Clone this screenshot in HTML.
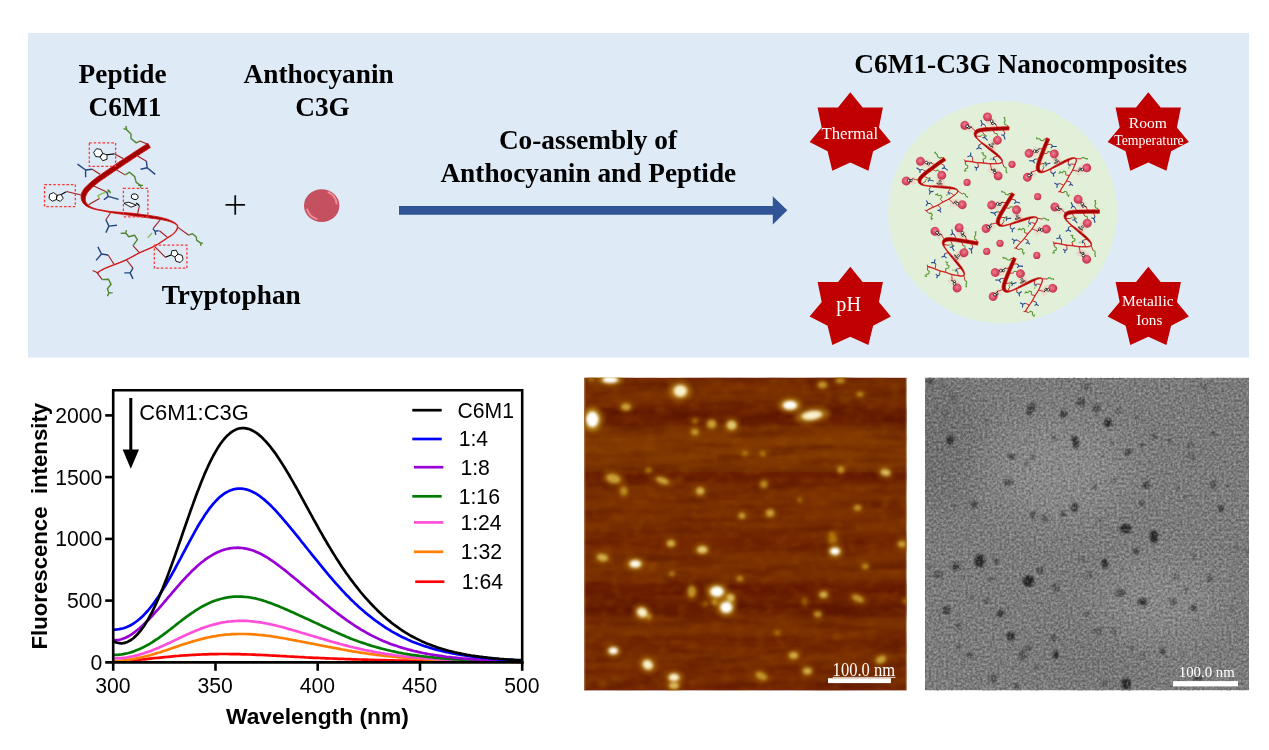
<!DOCTYPE html>
<html lang="en"><head><meta charset="utf-8"><title>C6M1-C3G Nanocomposites</title>
<style>html,body{margin:0;padding:0;background:#fff;overflow:hidden}svg{display:block}text{white-space:pre}</style></head><body>
<svg width="1269" height="750" viewBox="0 0 1269 750">
<defs>
<radialGradient id="sph" cx="0.45" cy="0.42" r="0.6"><stop offset="0" stop-color="#ec8292"/><stop offset="0.5" stop-color="#dd5068"/><stop offset="1" stop-color="#c02c48"/></radialGradient>
<linearGradient id="rib" x1="0" y1="0" x2="1" y2="1"><stop offset="0" stop-color="#d0181c"/><stop offset="0.5" stop-color="#c00000"/><stop offset="1" stop-color="#a80000"/></linearGradient>
<radialGradient id="c3g" cx="0.5" cy="0.5" r="0.5"><stop offset="0" stop-color="#c5505f"/><stop offset="0.82" stop-color="#c5505f"/><stop offset="0.93" stop-color="#d4606e"/><stop offset="1" stop-color="#c04a58"/></radialGradient>
<g id="pepmini"><path d="M147.9 144.3 L139.8 140.9" fill="none" stroke="#c0282a" stroke-width="2.2"/>
<path d="M114.6 153.9 L123.5 158.8" fill="none" stroke="#c0282a" stroke-width="2.2"/>
<path d="M100.0 174.2 L92.2 169.3" fill="none" stroke="#c0282a" stroke-width="2.2"/>
<path d="M137.6 156.1 L146.4 161.2" fill="none" stroke="#c0282a" stroke-width="2.2"/>
<path d="M116.2 169.6 L125.4 175.1" fill="none" stroke="#c0282a" stroke-width="2.2"/>
<path d="M66.5 191.5 L81.0 195.0" fill="none" stroke="#c0282a" stroke-width="2.2"/>
<path d="M139.4 205.9 L137.6 213.8" fill="none" stroke="#c0282a" stroke-width="2.2"/>
<path d="M93.7 186.1 L106.8 192.0" fill="none" stroke="#c0282a" stroke-width="2.2"/>
<path d="M88.5 204.7 L99.5 198.6" fill="none" stroke="#c0282a" stroke-width="2.2"/>
<path d="M92.7 270.4 L98.6 273.3" fill="none" stroke="#c0282a" stroke-width="2.2"/>
<path d="M111.1 212.0 L105.9 219.8" fill="none" stroke="#c0282a" stroke-width="2.2"/>
<path d="M139.6 252.8 L133.0 245.7" fill="none" stroke="#c0282a" stroke-width="2.2"/>
<path d="M160.9 219.0 L153.2 228.4" fill="none" stroke="#c0282a" stroke-width="2.2"/>
<path d="M159.4 230.8 L167.5 237.4" fill="none" stroke="#c0282a" stroke-width="2.2"/>
<path d="M177.6 227.1 L188.8 235.2" fill="none" stroke="#c0282a" stroke-width="2.2"/>
<path d="M154.3 246.2 L165.3 257.2" fill="none" stroke="#c0282a" stroke-width="2.2"/>
<path d="M114.0 264.2 L108.1 255.0" fill="none" stroke="#c0282a" stroke-width="2.2"/>
<path d="M126.5 260.0 L133.0 268.2" fill="none" stroke="#c0282a" stroke-width="2.2"/>
<path d="M97.1 272.9 L102.3 279.6" fill="none" stroke="#c0282a" stroke-width="2.2"/>
<path d="M139.8 141.2 L136.2 142.9 L131.0 138.5 L131.0 134.1 L126.6 129.7 L125.9 126.0 M126.6 129.7 L123.6 128.6 M125.6 174.6 L129.6 172.2 L134.7 176.6 L136.2 182.4 L140.6 185.4 L140.6 187.8 M138.2 185.4 L143.0 185.4 M133.0 245.7 L137.4 239.6 L134.5 235.2 L128.7 236.7 L125.7 233.0 M120.6 233.4 L125.7 233.0 L126.5 230.1 M188.8 235.2 L192.4 233.7 L196.1 236.7 L196.8 240.3 L201.2 243.3 M202.9 242.8 L201.2 243.3 L200.5 245.7 M102.3 279.6 L108.4 279.2 L111.1 284.3 L107.4 288.7 L108.9 293.1 M112.7 292.6 L108.9 293.1 L107.4 296.2 M107.5 191.9 L109.8 191.2 M107.5 189.6 L109.8 191.2 L110.5 193.4" fill="none" stroke="#5a9a34" stroke-width="2.8" stroke-linejoin="round"/>
<path d="M147.7 237.8 L152.1 233.0 M99.5 198.6 L98.0 195.6 L102.4 193.4 L107.5 191.9" fill="none" stroke="#84c058" stroke-width="2.6" stroke-linejoin="round"/>
<path d="M92.2 169.3 L85.6 170.0 M77.5 164.1 L85.6 170.0 L85.6 177.3 M146.4 161.2 L147.2 167.8 M140.6 169.3 L147.2 167.8 L155.2 174.4 M106.8 192.0 L108.3 196.4 M103.9 199.8 L108.3 196.4 L118.6 199.3 M105.9 219.8 L108.9 226.1 M116.9 225.2 L108.9 226.1 L105.9 232.6 M152.8 228.6 L155.0 231.1 M158.7 230.8 L155.0 231.1 L155.8 234.9 M108.1 255.0 L101.5 254.0 M97.9 246.9 L101.5 254.0 L96.1 260.4 M133.0 268.2 L130.1 272.9 M124.3 272.9 L130.1 272.9 L133.0 278.9" fill="none" stroke="#2a4a90" stroke-width="2.8" stroke-linejoin="round"/>
<path d="M146.8 141.8 L145.1 142.9 L143.4 144.0 L141.7 145.1 L140.0 146.2 L138.3 147.3 L136.6 148.4 L134.8 149.5 L133.1 150.6 L131.4 151.7 L129.7 152.9 L128.0 154.0 L126.3 155.1 L124.5 156.2 L122.8 157.4 L121.1 158.5 L119.4 159.7 L117.7 160.8 L116.0 161.9 L114.3 163.1 L112.6 164.2 L110.9 165.4 L109.2 166.5 L107.6 167.7 L105.9 168.8 L104.2 170.0 L102.5 171.1 L100.9 172.3 L99.2 173.4 L97.6 174.6 L95.9 175.9 L94.2 177.1 L92.6 178.4 L90.9 179.7 L89.2 181.1 L87.6 182.6 L85.9 184.1 L84.3 185.8 L82.7 187.7 L81.2 189.8 L80.0 192.2 L79.4 195.0 L79.4 197.8 L80.2 200.6 L81.5 203.1 L83.3 205.1 L85.3 206.6 L87.4 207.7 L89.5 208.5 L91.6 209.2 L93.6 209.7 L95.7 210.2 L97.7 210.6 L99.7 211.0 L101.8 211.4 L103.8 211.8 L105.8 212.2 L107.8 212.6 L109.8 213.1 L111.8 213.5 L113.8 213.9 L115.8 214.2 L117.8 214.6 L119.9 214.9 L121.9 215.2 L123.9 215.6 L125.9 215.9 L127.9 216.2 L129.9 216.5 L131.9 216.8 L133.9 217.1 L135.9 217.4 L137.9 217.7 L139.9 218.0 L141.9 218.3 L143.9 218.5 L145.9 218.8 L147.9 219.1 L150.0 219.3 L152.0 219.6 L154.1 219.8 L156.1 220.1 L158.1 220.4 L160.1 220.6 L162.0 220.9 L163.9 221.2 L165.8 221.5 L167.6 221.9 L169.5 222.4 L171.5 223.0 L173.6 223.8 L175.4 224.7 L176.6 225.8 L177.0 227.1 L176.5 228.9 L175.5 230.7 L174.1 232.4 L172.6 233.7 L171.1 234.9 L169.4 236.0 L167.7 237.1 L166.0 238.2 L164.3 239.3 L162.6 240.4 L160.9 241.5 L159.2 242.7 L157.5 243.7 L155.8 244.8 L154.0 245.7 L152.2 246.7 L150.4 247.5 L148.5 248.3 L146.6 249.1 L144.8 249.9 L142.9 250.7 L141.0 251.5 L139.1 252.4 L137.3 253.3 L135.5 254.3 L133.7 255.3 L131.9 256.2 L130.1 257.2 L128.4 258.2 L126.6 259.1 L124.7 259.9 L122.9 260.8 L121.0 261.5 L119.1 262.3 L117.2 263.0 L115.3 263.7 L113.4 264.4 L111.5 265.2 L109.6 265.9 L107.7 266.7 L105.8 267.5 L104.0 268.3 L102.1 269.2 L100.3 270.2 L98.5 271.3 L96.8 272.4 L97.4 273.4 L99.1 272.2 L100.8 271.2 L102.6 270.2 L104.4 269.3 L106.3 268.5 L108.1 267.7 L110.0 266.9 L111.9 266.2 L113.8 265.5 L115.7 264.8 L117.6 264.0 L119.5 263.3 L121.4 262.6 L123.3 261.8 L125.2 260.9 L127.0 260.1 L128.9 259.1 L130.7 258.2 L132.5 257.2 L134.2 256.2 L136.0 255.2 L137.8 254.3 L139.6 253.4 L141.5 252.5 L143.3 251.7 L145.2 250.9 L147.1 250.1 L148.9 249.3 L150.8 248.5 L152.7 247.6 L154.5 246.7 L156.3 245.7 L158.1 244.7 L159.8 243.6 L161.5 242.5 L163.3 241.3 L164.9 240.2 L166.6 239.1 L168.3 238.0 L170.0 236.9 L171.7 235.8 L173.3 234.6 L174.9 233.1 L176.4 231.4 L177.6 229.4 L178.3 227.3 L178.0 225.1 L176.6 223.2 L174.7 221.8 L172.6 220.6 L170.6 219.6 L168.7 218.7 L166.7 218.0 L164.8 217.4 L162.9 216.8 L160.9 216.3 L158.9 215.8 L156.8 215.4 L154.8 215.1 L152.7 214.7 L150.7 214.4 L148.7 214.1 L146.6 213.8 L144.6 213.5 L142.6 213.2 L140.6 212.9 L138.6 212.7 L136.5 212.4 L134.5 212.2 L132.5 212.0 L130.4 211.9 L128.4 211.7 L126.4 211.6 L124.3 211.5 L122.3 211.4 L120.2 211.3 L118.2 211.2 L116.2 211.1 L114.1 211.0 L112.1 210.9 L110.1 210.7 L108.1 210.5 L106.1 210.2 L104.1 209.9 L102.1 209.6 L100.1 209.2 L98.1 208.8 L96.1 208.3 L94.3 207.7 L92.5 206.9 L90.8 205.9 L89.2 204.8 L88.0 203.4 L87.1 202.0 L86.7 200.6 L86.7 199.1 L87.0 197.8 L87.4 196.6 L88.0 195.5 L88.6 194.2 L89.5 192.9 L90.6 191.6 L92.0 190.2 L93.4 188.8 L94.8 187.5 L96.3 186.3 L97.8 185.1 L99.3 183.9 L100.9 182.7 L102.5 181.6 L104.1 180.5 L105.8 179.3 L107.4 178.2 L109.1 177.1 L110.8 175.9 L112.4 174.8 L114.1 173.6 L115.8 172.5 L117.5 171.3 L119.1 170.2 L120.8 169.1 L122.5 167.9 L124.2 166.8 L125.9 165.7 L127.6 164.5 L129.3 163.4 L131.0 162.3 L132.7 161.1 L134.4 160.0 L136.1 158.9 L137.8 157.8 L139.5 156.7 L141.2 155.6 L142.9 154.4 L144.6 153.4 L146.3 152.3 L148.0 151.2 L149.7 150.1 L151.4 149.0Z" fill="#a20000" stroke="#d61616" stroke-width="1.8" stroke-linejoin="round"/>
<rect x="91.3" y="144.9" width="22.3" height="19.4" fill="#ff9090" fill-opacity="0.22"/>
<rect x="46.5" y="186.6" width="26.8" height="18.0" fill="#ff9090" fill-opacity="0.22"/>
<rect x="125.4" y="190.3" width="20.5" height="24.6" fill="#ff9090" fill-opacity="0.22"/>
<rect x="156.3" y="247.2" width="28.6" height="19.0" fill="#ff9090" fill-opacity="0.22"/>
<circle cx="88.0" cy="148.5" r="11.2" fill="url(#sph)"/>
<circle cx="50.0" cy="196.0" r="11.2" fill="url(#sph)"/>
<circle cx="139.5" cy="186.0" r="11.2" fill="url(#sph)"/>
<circle cx="187.0" cy="262.0" r="11.2" fill="url(#sph)"/>
<g transform="translate(107.5 155.9) scale(0.85) translate(-103.9 -157.0)">
<path d="M100.0 157.0 L95.6 156.5 L93.7 152.4 L96.4 148.8 L100.8 149.3 L102.7 153.4Z M102.7 153.4 L107.0 154.8 L107.0 159.3 L102.7 160.7 L100.0 157.0Z" fill="#fff" stroke="#000" stroke-width="1.9" stroke-linejoin="round"/>
<path d="M107.0 154.8 L114.4 153.9" fill="none" stroke="#000" stroke-width="2.3"/>
</g>
<g transform="translate(62.0 195.7) scale(0.85) translate(-59.6 -197.8)">
<path d="M56.4 199.5 L52.4 201.2 L49.0 198.5 L49.6 194.3 L53.6 192.6 L57.0 195.3Z M57.0 195.3 L61.2 194.5 L63.2 198.3 L60.3 201.4 L56.4 199.5Z" fill="#fff" stroke="#000" stroke-width="1.9" stroke-linejoin="round"/>
<path d="M61.2 194.5 L66.3 191.8" fill="none" stroke="#000" stroke-width="2.3"/>
</g>
<g transform="translate(171.2 254.7) scale(0.85) translate(-174.4 -253.4)">
<path d="M178.0 254.1 L182.1 255.4 L183.1 259.6 L180.0 262.5 L175.9 261.2 L174.9 257.0Z M174.9 257.0 L171.1 255.0 L171.9 250.7 L176.2 250.2 L178.0 254.1Z" fill="#fff" stroke="#000" stroke-width="1.9" stroke-linejoin="round"/>
<path d="M171.1 255.0 L165.3 257.2" fill="none" stroke="#000" stroke-width="2.3"/>
</g>
<g transform="translate(134 203) scale(0.8) translate(-134 -200)">
<ellipse cx="134.7" cy="196.7" rx="3.5" ry="2.8" fill="#fff" stroke="#000" stroke-width="1.9" transform="rotate(15 134.7 196.7)"/>
<path d="M123.9 203.2 L128.8 202.2 L136.4 205.2 L131.0 207.2Z" fill="#fff" stroke="#000" stroke-width="1.9" stroke-linejoin="round"/>
<path d="M136.2 203.0 L139.4 205.4" fill="none" stroke="#000" stroke-width="2.5"/>
</g></g>
</defs>
<rect x="28" y="33" width="1221" height="324.6" fill="#deeaf6"/>
<g font-family="'Liberation Serif', 'Times New Roman', serif">
<text x="122.6" y="83.0" font-size="27.3" font-weight="bold" text-anchor="middle" fill="#000" >Peptide</text>
<text x="125.0" y="115.6" font-size="27.3" font-weight="bold" text-anchor="middle" fill="#000" >C6M1</text>
<text x="318.6" y="82.9" font-size="27.3" font-weight="bold" text-anchor="middle" fill="#000" >Anthocyanin</text>
<text x="322.5" y="115.5" font-size="27.3" font-weight="bold" text-anchor="middle" fill="#000" >C3G</text>
<text x="231.2" y="303.7" font-size="27.3" font-weight="bold" text-anchor="middle" fill="#000" >Tryptophan</text>
<text x="588.0" y="148.8" font-size="27.3" font-weight="bold" text-anchor="middle" fill="#000" >Co-assembly of</text>
<text x="588.3" y="181.7" font-size="27.3" font-weight="bold" text-anchor="middle" fill="#000" >Anthocyanin and Peptide</text>
<text x="1020.7" y="72.6" font-size="27.3" font-weight="bold" text-anchor="middle" fill="#000" >C6M1-C3G Nanocomposites</text>
<text x="235.1" y="218.9" font-size="43.0"  text-anchor="middle" fill="#000" stroke="#deeaf6" stroke-width="0.45">+</text>
</g>
<g id="pep"><path d="M147.9 144.3 L139.8 140.9" fill="none" stroke="#9e1c1c" stroke-width="1.1"/>
<path d="M114.6 153.9 L123.5 158.8" fill="none" stroke="#9e1c1c" stroke-width="1.1"/>
<path d="M100.0 174.2 L92.2 169.3" fill="none" stroke="#9e1c1c" stroke-width="1.1"/>
<path d="M137.6 156.1 L146.4 161.2" fill="none" stroke="#9e1c1c" stroke-width="1.1"/>
<path d="M116.2 169.6 L125.4 175.1" fill="none" stroke="#9e1c1c" stroke-width="1.1"/>
<path d="M66.5 191.5 L81.0 195.0" fill="none" stroke="#9e1c1c" stroke-width="1.1"/>
<path d="M139.4 205.9 L137.6 213.8" fill="none" stroke="#9e1c1c" stroke-width="1.1"/>
<path d="M93.7 186.1 L106.8 192.0" fill="none" stroke="#9e1c1c" stroke-width="1.1"/>
<path d="M88.5 204.7 L99.5 198.6" fill="none" stroke="#9e1c1c" stroke-width="1.1"/>
<path d="M92.7 270.4 L98.6 273.3" fill="none" stroke="#9e1c1c" stroke-width="1.1"/>
<path d="M111.1 212.0 L105.9 219.8" fill="none" stroke="#9e1c1c" stroke-width="1.1"/>
<path d="M139.6 252.8 L133.0 245.7" fill="none" stroke="#9e1c1c" stroke-width="1.1"/>
<path d="M160.9 219.0 L153.2 228.4" fill="none" stroke="#9e1c1c" stroke-width="1.1"/>
<path d="M159.4 230.8 L167.5 237.4" fill="none" stroke="#9e1c1c" stroke-width="1.1"/>
<path d="M177.6 227.1 L188.8 235.2" fill="none" stroke="#9e1c1c" stroke-width="1.1"/>
<path d="M154.3 246.2 L165.3 257.2" fill="none" stroke="#9e1c1c" stroke-width="1.1"/>
<path d="M114.0 264.2 L108.1 255.0" fill="none" stroke="#9e1c1c" stroke-width="1.1"/>
<path d="M126.5 260.0 L133.0 268.2" fill="none" stroke="#9e1c1c" stroke-width="1.1"/>
<path d="M97.1 272.9 L102.3 279.6" fill="none" stroke="#9e1c1c" stroke-width="1.1"/>
<path d="M139.8 141.2 L136.2 142.9 L131.0 138.5 L131.0 134.1 L126.6 129.7 L125.9 126.0 M126.6 129.7 L123.6 128.6 M125.6 174.6 L129.6 172.2 L134.7 176.6 L136.2 182.4 L140.6 185.4 L140.6 187.8 M138.2 185.4 L143.0 185.4 M133.0 245.7 L137.4 239.6 L134.5 235.2 L128.7 236.7 L125.7 233.0 M120.6 233.4 L125.7 233.0 L126.5 230.1 M188.8 235.2 L192.4 233.7 L196.1 236.7 L196.8 240.3 L201.2 243.3 M202.9 242.8 L201.2 243.3 L200.5 245.7 M102.3 279.6 L108.4 279.2 L111.1 284.3 L107.4 288.7 L108.9 293.1 M112.7 292.6 L108.9 293.1 L107.4 296.2 M107.5 191.9 L109.8 191.2 M107.5 189.6 L109.8 191.2 L110.5 193.4" fill="none" stroke="#4f8630" stroke-width="1.4" stroke-linejoin="round"/>
<path d="M147.7 237.8 L152.1 233.0 M99.5 198.6 L98.0 195.6 L102.4 193.4 L107.5 191.9" fill="none" stroke="#84c058" stroke-width="1.3" stroke-linejoin="round"/>
<path d="M92.2 169.3 L85.6 170.0 M77.5 164.1 L85.6 170.0 L85.6 177.3 M146.4 161.2 L147.2 167.8 M140.6 169.3 L147.2 167.8 L155.2 174.4 M106.8 192.0 L108.3 196.4 M103.9 199.8 L108.3 196.4 L118.6 199.3 M105.9 219.8 L108.9 226.1 M116.9 225.2 L108.9 226.1 L105.9 232.6 M152.8 228.6 L155.0 231.1 M158.7 230.8 L155.0 231.1 L155.8 234.9 M108.1 255.0 L101.5 254.0 M97.9 246.9 L101.5 254.0 L96.1 260.4 M133.0 268.2 L130.1 272.9 M124.3 272.9 L130.1 272.9 L133.0 278.9" fill="none" stroke="#24447f" stroke-width="1.4" stroke-linejoin="round"/>
<path d="M147.8 143.3 L146.1 144.4 L144.4 145.5 L142.7 146.6 L140.9 147.7 L139.2 148.8 L137.5 149.9 L135.8 151.0 L134.1 152.1 L132.4 153.2 L130.7 154.4 L129.0 155.5 L127.3 156.6 L125.5 157.7 L123.8 158.9 L122.1 160.0 L120.4 161.1 L118.7 162.3 L117.0 163.4 L115.3 164.6 L113.6 165.7 L111.9 166.9 L110.3 168.0 L108.6 169.2 L106.9 170.3 L105.2 171.5 L103.6 172.6 L101.9 173.8 L100.2 174.9 L98.6 176.1 L96.9 177.3 L95.3 178.5 L93.6 179.8 L92.0 181.1 L90.4 182.5 L88.8 183.9 L87.2 185.4 L85.6 187.0 L84.1 188.8 L82.8 190.7 L81.7 192.9 L81.1 195.3 L81.1 197.8 L81.6 200.3 L82.7 202.5 L84.2 204.3 L86.0 205.8 L87.9 206.9 L89.9 207.7 L91.8 208.5 L93.8 209.1 L95.8 209.6 L97.8 210.0 L99.8 210.4 L101.9 210.8 L103.9 211.2 L105.9 211.6 L107.9 212.0 L109.9 212.4 L111.9 212.7 L113.9 213.1 L115.9 213.4 L117.9 213.7 L120.0 213.9 L122.0 214.2 L124.0 214.5 L126.0 214.8 L128.0 215.0 L130.0 215.3 L132.0 215.6 L134.1 215.9 L136.1 216.2 L138.1 216.5 L140.1 216.7 L142.1 217.0 L144.1 217.3 L146.1 217.6 L148.1 217.8 L150.2 218.1 L152.2 218.4 L154.2 218.6 L156.3 218.9 L158.3 219.2 L160.3 219.5 L162.2 219.8 L164.1 220.2 L166.0 220.6 L167.9 221.1 L169.8 221.6 L171.8 222.3 L173.9 223.2 L175.8 224.3 L177.0 225.6 L177.4 227.2 L176.8 229.0 L175.7 230.9 L174.3 232.6 L172.8 234.0 L171.2 235.2 L169.6 236.2 L167.9 237.3 L166.2 238.4 L164.5 239.5 L162.8 240.7 L161.1 241.8 L159.4 242.9 L157.7 244.0 L155.9 245.0 L154.1 246.0 L152.3 246.9 L150.5 247.8 L148.6 248.6 L146.7 249.4 L144.9 250.2 L143.0 251.0 L141.1 251.8 L139.3 252.7 L137.5 253.6 L135.6 254.5 L133.9 255.5 L132.1 256.5 L130.3 257.5 L128.5 258.4 L126.7 259.3 L124.9 260.2 L123.0 261.0 L121.1 261.8 L119.2 262.6 L117.3 263.3 L115.4 264.0 L113.5 264.7 L111.6 265.4 L109.7 266.2 L107.8 266.9 L105.9 267.7 L104.1 268.6 L102.2 269.5 L100.4 270.5 L98.7 271.5 L97.0 272.7 L97.2 273.1 L98.9 272.0 L100.7 270.9 L102.5 269.9 L104.3 269.0 L106.1 268.2 L108.0 267.4 L109.9 266.6 L111.8 265.9 L113.7 265.2 L115.6 264.5 L117.5 263.8 L119.4 263.0 L121.3 262.3 L123.2 261.5 L125.1 260.7 L126.9 259.8 L128.7 258.9 L130.5 257.9 L132.3 256.9 L134.1 256.0 L135.9 255.0 L137.7 254.0 L139.5 253.1 L141.3 252.3 L143.2 251.4 L145.1 250.6 L146.9 249.9 L148.8 249.1 L150.7 248.2 L152.5 247.4 L154.4 246.5 L156.2 245.5 L157.9 244.4 L159.7 243.3 L161.4 242.2 L163.1 241.1 L164.8 240.0 L166.5 238.8 L168.1 237.7 L169.8 236.7 L171.5 235.6 L173.1 234.3 L174.7 232.9 L176.1 231.2 L177.3 229.3 L177.9 227.2 L177.6 225.3 L176.3 223.7 L174.4 222.4 L172.3 221.3 L170.3 220.4 L168.4 219.6 L166.5 218.9 L164.6 218.4 L162.6 217.9 L160.7 217.4 L158.7 217.0 L156.6 216.6 L154.6 216.3 L152.5 215.9 L150.5 215.6 L148.5 215.3 L146.5 215.0 L144.4 214.7 L142.4 214.5 L140.4 214.2 L138.4 213.9 L136.4 213.7 L134.4 213.5 L132.3 213.2 L130.3 213.0 L128.3 212.9 L126.2 212.7 L124.2 212.5 L122.2 212.4 L120.1 212.3 L118.1 212.1 L116.1 212.0 L114.0 211.8 L112.0 211.6 L110.0 211.4 L108.0 211.1 L106.0 210.8 L104.0 210.5 L102.0 210.1 L100.0 209.8 L98.0 209.4 L96.0 208.9 L94.1 208.3 L92.2 207.6 L90.4 206.7 L88.7 205.6 L87.3 204.2 L86.2 202.7 L85.5 201.1 L85.3 199.5 L85.4 197.8 L85.7 196.2 L86.3 194.8 L87.1 193.3 L88.1 191.8 L89.3 190.4 L90.7 188.9 L92.1 187.5 L93.6 186.2 L95.1 184.9 L96.7 183.7 L98.2 182.5 L99.8 181.3 L101.5 180.1 L103.1 179.0 L104.8 177.9 L106.4 176.7 L108.1 175.6 L109.7 174.4 L111.4 173.3 L113.1 172.1 L114.8 171.0 L116.4 169.9 L118.1 168.7 L119.8 167.6 L121.5 166.4 L123.2 165.3 L124.9 164.2 L126.6 163.0 L128.3 161.9 L130.0 160.8 L131.7 159.6 L133.4 158.5 L135.1 157.4 L136.8 156.3 L138.5 155.2 L140.2 154.1 L141.9 152.9 L143.6 151.8 L145.3 150.8 L147.0 149.7 L148.7 148.6 L150.4 147.5Z" fill="#a20000" stroke="#d61616" stroke-width="0.9" stroke-linejoin="round"/>
<path d="M100.0 157.0 L95.6 156.5 L93.7 152.4 L96.4 148.8 L100.8 149.3 L102.7 153.4Z M102.7 153.4 L107.0 154.8 L107.0 159.3 L102.7 160.7 L100.0 157.0Z" fill="#fff" stroke="#000" stroke-width="0.9" stroke-linejoin="round"/>
<path d="M107.0 154.8 L114.4 153.9" fill="none" stroke="#000" stroke-width="1.1"/>
<path d="M56.4 199.5 L52.4 201.2 L49.0 198.5 L49.6 194.3 L53.6 192.6 L57.0 195.3Z M57.0 195.3 L61.2 194.5 L63.2 198.3 L60.3 201.4 L56.4 199.5Z" fill="#fff" stroke="#000" stroke-width="0.9" stroke-linejoin="round"/>
<path d="M61.2 194.5 L66.3 191.8" fill="none" stroke="#000" stroke-width="1.1"/>
<path d="M178.0 254.1 L182.1 255.4 L183.1 259.6 L180.0 262.5 L175.9 261.2 L174.9 257.0Z M174.9 257.0 L171.1 255.0 L171.9 250.7 L176.2 250.2 L178.0 254.1Z" fill="#fff" stroke="#000" stroke-width="0.9" stroke-linejoin="round"/>
<path d="M171.1 255.0 L165.3 257.2" fill="none" stroke="#000" stroke-width="1.1"/>
<ellipse cx="134.7" cy="196.7" rx="3.5" ry="2.8" fill="#fff" stroke="#000" stroke-width="0.9" transform="rotate(15 134.7 196.7)"/>
<path d="M123.9 203.2 L128.8 202.2 L136.4 205.2 L131.0 207.2Z" fill="#fff" stroke="#000" stroke-width="0.9" stroke-linejoin="round"/>
<path d="M136.2 203.0 L139.4 205.4" fill="none" stroke="#000" stroke-width="1.2"/>
<rect x="89.3" y="142.9" width="26.3" height="23.4" fill="none" stroke="#ff3535" stroke-width="1.25" stroke-dasharray="2.5 1.9"/>
<rect x="44.5" y="184.6" width="30.8" height="22.0" fill="none" stroke="#ff3535" stroke-width="1.25" stroke-dasharray="2.5 1.9"/>
<rect x="123.4" y="188.3" width="24.5" height="28.6" fill="none" stroke="#ff3535" stroke-width="1.25" stroke-dasharray="2.5 1.9"/>
<rect x="154.3" y="245.2" width="32.6" height="23.0" fill="none" stroke="#ff3535" stroke-width="1.25" stroke-dasharray="2.5 1.9"/></g>
<defs><filter id="hl" x="-20%" y="-20%" width="140%" height="140%"><feGaussianBlur stdDeviation="0.7"/></filter></defs>
<ellipse cx="321.7" cy="205.6" rx="17.7" ry="16.4" fill="#c5505f"/>
<g filter="url(#hl)" fill="none" stroke="#f08c98" stroke-width="2" stroke-linecap="round">
<path d="M328.5 192.4 A15 13.8 0 0 1 336.6 203.5"/>
<path d="M307.2 209.5 A15 13.8 0 0 0 316.5 218.9"/>
</g>
<path d="M399 206 H772.8 V196.2 L787.3 210.3 L772.8 224.6 V214.8 H399 Z" fill="#2f5597"/>
<ellipse cx="1002.8" cy="212.2" rx="114.5" ry="111.2" fill="#e2f0d9"/>
<defs><path id="star" d="M0.0 0.0 L12.4 15.3 L32.6 15.3 L28.6 35.3 L40.6 49.7 L22.8 59.0 L18.1 78.4 L0.0 70.1 L-18.0 78.4 L-22.7 59.0 L-40.7 49.7 L-28.6 35.3 L-32.7 15.3 L-12.3 15.3Z" fill="#c00000"/></defs>
<use href="#star" x="850.3" y="92.3"/>
<use href="#star" x="1148.3" y="92.3"/>
<use href="#star" x="850.3" y="266.7"/>
<use href="#star" x="1148.3" y="266.7"/>
<g font-family="'Liberation Serif', 'Times New Roman', serif">
<text x="849.8" y="138.7" font-size="16.7"  text-anchor="middle" fill="#fff" >Thermal</text>
<text x="1147.8" y="128.0" font-size="15.6"  text-anchor="middle" fill="#fff" >Room</text>
<text x="1149.0" y="145.3" font-size="13.8"  text-anchor="middle" fill="#fff" >Temperature</text>
<text x="848.7" y="311.0" font-size="20.2"  text-anchor="middle" fill="#fff" >pH</text>
<text x="1147.8" y="306.3" font-size="15.5"  text-anchor="middle" fill="#fff" >Metallic</text>
<text x="1149.3" y="324.6" font-size="15.2"  text-anchor="middle" fill="#fff" >Ions</text>
</g>
<circle cx="1012.0" cy="164.3" r="3.6" fill="url(#sph)"/>
<circle cx="967.1" cy="182.4" r="3.6" fill="url(#sph)"/>
<circle cx="1037.7" cy="196.7" r="3.6" fill="url(#sph)"/>
<circle cx="1000.0" cy="243.3" r="3.6" fill="url(#sph)"/>
<circle cx="986.7" cy="251.4" r="3.6" fill="url(#sph)"/>
<circle cx="1036.8" cy="255.4" r="3.6" fill="url(#sph)"/>
<use href="#pepmini" transform="translate(1009.0 128.3) rotate(30.9) scale(0.398) translate(-149.1 -145.4)"/>
<use href="#pepmini" transform="translate(944.8 158.9) rotate(-2.8) scale(0.400) translate(-149.1 -145.4)"/>
<use href="#pepmini" transform="translate(1048.2 138.5) rotate(-34.7) scale(0.396) translate(-149.1 -145.4)"/>
<use href="#pepmini" transform="translate(1013.1 193.6) rotate(-25.2) scale(0.397) translate(-149.1 -145.4)"/>
<use href="#pepmini" transform="translate(1099.4 211.6) rotate(33.0) scale(0.402) translate(-149.1 -145.4)"/>
<use href="#pepmini" transform="translate(977.9 243.5) rotate(43.0) scale(0.401) translate(-149.1 -145.4)"/>
<use href="#pepmini" transform="translate(1014.7 258.1) rotate(-33.6) scale(0.396) translate(-149.1 -145.4)"/>
<g id="chart" font-family="'Liberation Sans', Arial, sans-serif" fill="#000">
<path d="M113.2 661.6 L115.2 661.5 L117.3 661.4 L119.3 661.3 L121.4 661.2 L123.4 661.0 L125.5 660.9 L127.5 660.7 L129.6 660.6 L131.6 660.4 L133.7 660.2 L135.7 660.0 L137.7 659.9 L139.8 659.7 L141.8 659.5 L143.9 659.3 L145.9 659.1 L148.0 658.8 L150.0 658.6 L152.1 658.4 L154.1 658.2 L156.1 658.0 L158.2 657.8 L160.2 657.6 L162.3 657.4 L164.3 657.2 L166.4 657.0 L168.4 656.8 L170.5 656.6 L172.5 656.4 L174.6 656.2 L176.6 656.0 L178.6 655.9 L180.7 655.7 L182.7 655.5 L184.8 655.4 L186.8 655.3 L188.9 655.1 L190.9 655.0 L193.0 654.9 L195.0 654.8 L197.0 654.7 L199.1 654.6 L201.1 654.5 L203.2 654.4 L205.2 654.3 L207.3 654.3 L209.3 654.2 L211.4 654.2 L213.4 654.1 L215.5 654.1 L217.5 654.1 L219.5 654.0 L221.6 654.0 L223.6 654.0 L225.7 654.0 L227.7 654.0 L229.8 654.1 L231.8 654.1 L233.9 654.1 L235.9 654.1 L237.9 654.2 L240.0 654.2 L242.0 654.3 L244.1 654.3 L246.1 654.4 L248.2 654.5 L250.2 654.5 L252.3 654.6 L254.3 654.7 L256.4 654.8 L258.4 654.9 L260.4 654.9 L262.5 655.0 L264.5 655.1 L266.6 655.2 L268.6 655.3 L270.7 655.5 L272.7 655.6 L274.8 655.7 L276.8 655.8 L278.8 655.9 L280.9 656.0 L282.9 656.1 L285.0 656.2 L287.0 656.4 L289.1 656.5 L291.1 656.6 L293.2 656.7 L295.2 656.8 L297.3 656.9 L299.3 657.0 L301.3 657.1 L303.4 657.2 L305.4 657.4 L307.5 657.5 L309.5 657.6 L311.6 657.7 L313.6 657.8 L315.7 657.9 L317.7 657.9 L319.7 658.0 L321.8 658.1 L323.8 658.2 L325.9 658.3 L327.9 658.4 L330.0 658.5 L332.0 658.5 L334.1 658.6 L336.1 658.7 L338.2 658.8 L340.2 658.8 L342.2 658.9 L344.3 659.0 L346.3 659.1 L348.4 659.1 L350.4 659.2 L352.5 659.3 L354.5 659.3 L356.6 659.4 L358.6 659.5 L360.6 659.5 L362.7 659.6 L364.7 659.7 L366.8 659.7 L368.8 659.8 L370.9 659.8 L372.9 659.9 L375.0 660.0 L377.0 660.0 L379.1 660.1 L381.1 660.1 L383.1 660.2 L385.2 660.2 L387.2 660.3 L389.3 660.3 L391.3 660.4 L393.4 660.4 L395.4 660.5 L397.5 660.5 L399.5 660.6 L401.5 660.6 L403.6 660.6 L405.6 660.7 L407.7 660.7 L409.7 660.8 L411.8 660.8 L413.8 660.8 L415.9 660.9 L417.9 660.9 L420.0 660.9 L422.0 661.0 L424.0 661.0 L426.1 661.0 L428.1 661.1 L430.2 661.1 L432.2 661.1 L434.3 661.1 L436.3 661.2 L438.4 661.2 L440.4 661.2 L442.4 661.2 L444.5 661.3 L446.5 661.3 L448.6 661.3 L450.6 661.3 L452.7 661.4 L454.7 661.4 L456.8 661.4 L458.8 661.4 L460.9 661.4 L462.9 661.5 L464.9 661.5 L467.0 661.5 L469.0 661.5 L471.1 661.5 L473.1 661.5 L475.2 661.5 L477.2 661.6 L479.3 661.6 L481.3 661.6 L483.3 661.6 L485.4 661.6 L487.4 661.6 L489.5 661.6 L491.5 661.7 L493.6 661.7 L495.6 661.7 L497.7 661.7 L499.7 661.7 L501.8 661.7 L503.8 661.7 L505.8 661.7 L507.9 661.7 L509.9 661.7 L512.0 661.8 L514.0 661.8 L516.1 661.8 L518.1 661.8 L520.2 661.8 L522.2 661.8" fill="none" stroke="#ff0000" stroke-width="2.7" stroke-linejoin="round"/>
<path d="M113.2 661.3 L115.2 661.2 L117.3 661.0 L119.3 660.9 L121.4 660.6 L123.4 660.4 L125.5 660.1 L127.5 659.9 L129.6 659.6 L131.6 659.2 L133.7 658.9 L135.7 658.5 L137.7 658.1 L139.8 657.7 L141.8 657.2 L143.9 656.7 L145.9 656.2 L148.0 655.7 L150.0 655.2 L152.1 654.6 L154.1 654.0 L156.1 653.4 L158.2 652.8 L160.2 652.2 L162.3 651.5 L164.3 650.8 L166.4 650.2 L168.4 649.5 L170.5 648.8 L172.5 648.1 L174.6 647.4 L176.6 646.7 L178.6 646.0 L180.7 645.3 L182.7 644.6 L184.8 643.9 L186.8 643.3 L188.9 642.6 L190.9 642.0 L193.0 641.4 L195.0 640.8 L197.0 640.2 L199.1 639.6 L201.1 639.1 L203.2 638.6 L205.2 638.1 L207.3 637.6 L209.3 637.2 L211.4 636.8 L213.4 636.4 L215.5 636.1 L217.5 635.7 L219.5 635.4 L221.6 635.2 L223.6 634.9 L225.7 634.7 L227.7 634.5 L229.8 634.4 L231.8 634.2 L233.9 634.1 L235.9 634.1 L237.9 634.0 L240.0 634.0 L242.0 634.0 L244.1 634.0 L246.1 634.0 L248.2 634.1 L250.2 634.2 L252.3 634.3 L254.3 634.4 L256.4 634.6 L258.4 634.8 L260.4 635.0 L262.5 635.2 L264.5 635.4 L266.6 635.7 L268.6 635.9 L270.7 636.2 L272.7 636.5 L274.8 636.8 L276.8 637.1 L278.8 637.5 L280.9 637.8 L282.9 638.2 L285.0 638.5 L287.0 638.9 L289.1 639.3 L291.1 639.7 L293.2 640.1 L295.2 640.4 L297.3 640.8 L299.3 641.2 L301.3 641.6 L303.4 642.0 L305.4 642.4 L307.5 642.8 L309.5 643.2 L311.6 643.6 L313.6 644.0 L315.7 644.4 L317.7 644.8 L319.7 645.2 L321.8 645.6 L323.8 646.0 L325.9 646.4 L327.9 646.8 L330.0 647.1 L332.0 647.5 L334.1 647.9 L336.1 648.3 L338.2 648.7 L340.2 649.1 L342.2 649.5 L344.3 649.8 L346.3 650.2 L348.4 650.6 L350.4 650.9 L352.5 651.3 L354.5 651.6 L356.6 651.9 L358.6 652.3 L360.6 652.6 L362.7 652.9 L364.7 653.2 L366.8 653.5 L368.8 653.8 L370.9 654.1 L372.9 654.3 L375.0 654.6 L377.0 654.9 L379.1 655.1 L381.1 655.4 L383.1 655.6 L385.2 655.9 L387.2 656.1 L389.3 656.3 L391.3 656.5 L393.4 656.7 L395.4 656.9 L397.5 657.1 L399.5 657.3 L401.5 657.5 L403.6 657.7 L405.6 657.9 L407.7 658.0 L409.7 658.2 L411.8 658.4 L413.8 658.5 L415.9 658.7 L417.9 658.8 L420.0 658.9 L422.0 659.0 L424.0 659.2 L426.1 659.3 L428.1 659.4 L430.2 659.5 L432.2 659.6 L434.3 659.7 L436.3 659.8 L438.4 659.9 L440.4 660.0 L442.4 660.1 L444.5 660.1 L446.5 660.2 L448.6 660.3 L450.6 660.4 L452.7 660.4 L454.7 660.5 L456.8 660.6 L458.8 660.6 L460.9 660.7 L462.9 660.8 L464.9 660.8 L467.0 660.9 L469.0 660.9 L471.1 661.0 L473.1 661.0 L475.2 661.1 L477.2 661.1 L479.3 661.2 L481.3 661.2 L483.3 661.3 L485.4 661.3 L487.4 661.3 L489.5 661.4 L491.5 661.4 L493.6 661.4 L495.6 661.5 L497.7 661.5 L499.7 661.5 L501.8 661.5 L503.8 661.6 L505.8 661.6 L507.9 661.6 L509.9 661.6 L512.0 661.7 L514.0 661.7 L516.1 661.7 L518.1 661.7 L520.2 661.8 L522.2 661.8" fill="none" stroke="#ff8000" stroke-width="2.7" stroke-linejoin="round"/>
<path d="M113.2 658.4 L115.2 658.4 L117.3 658.4 L119.3 658.2 L121.4 658.1 L123.4 657.8 L125.5 657.6 L127.5 657.3 L129.6 656.9 L131.6 656.5 L133.7 656.1 L135.7 655.6 L137.7 655.1 L139.8 654.5 L141.8 653.9 L143.9 653.3 L145.9 652.6 L148.0 651.9 L150.0 651.2 L152.1 650.4 L154.1 649.6 L156.1 648.8 L158.2 647.9 L160.2 647.0 L162.3 646.1 L164.3 645.2 L166.4 644.3 L168.4 643.3 L170.5 642.4 L172.5 641.4 L174.6 640.4 L176.6 639.4 L178.6 638.5 L180.7 637.5 L182.7 636.5 L184.8 635.6 L186.8 634.6 L188.9 633.7 L190.9 632.8 L193.0 631.9 L195.0 631.0 L197.0 630.2 L199.1 629.4 L201.1 628.6 L203.2 627.9 L205.2 627.1 L207.3 626.5 L209.3 625.8 L211.4 625.2 L213.4 624.6 L215.5 624.1 L217.5 623.6 L219.5 623.1 L221.6 622.7 L223.6 622.3 L225.7 622.0 L227.7 621.7 L229.8 621.5 L231.8 621.3 L233.9 621.1 L235.9 621.0 L237.9 620.9 L240.0 620.8 L242.0 620.8 L244.1 620.8 L246.1 620.9 L248.2 621.0 L250.2 621.2 L252.3 621.3 L254.3 621.6 L256.4 621.8 L258.4 622.1 L260.4 622.4 L262.5 622.7 L264.5 623.1 L266.6 623.5 L268.6 623.9 L270.7 624.3 L272.7 624.8 L274.8 625.2 L276.8 625.7 L278.8 626.3 L280.9 626.8 L282.9 627.3 L285.0 627.9 L287.0 628.5 L289.1 629.1 L291.1 629.6 L293.2 630.2 L295.2 630.8 L297.3 631.4 L299.3 632.0 L301.3 632.7 L303.4 633.3 L305.4 633.9 L307.5 634.5 L309.5 635.1 L311.6 635.7 L313.6 636.3 L315.7 636.9 L317.7 637.5 L319.7 638.1 L321.8 638.7 L323.8 639.3 L325.9 639.9 L327.9 640.5 L330.0 641.1 L332.0 641.7 L334.1 642.3 L336.1 642.9 L338.2 643.4 L340.2 644.0 L342.2 644.5 L344.3 645.1 L346.3 645.6 L348.4 646.1 L350.4 646.7 L352.5 647.2 L354.5 647.7 L356.6 648.1 L358.6 648.6 L360.6 649.1 L362.7 649.5 L364.7 650.0 L366.8 650.4 L368.8 650.8 L370.9 651.2 L372.9 651.6 L375.0 652.0 L377.0 652.4 L379.1 652.7 L381.1 653.1 L383.1 653.4 L385.2 653.8 L387.2 654.1 L389.3 654.4 L391.3 654.7 L393.4 655.0 L395.4 655.3 L397.5 655.5 L399.5 655.8 L401.5 656.0 L403.6 656.3 L405.6 656.5 L407.7 656.7 L409.7 656.9 L411.8 657.2 L413.8 657.4 L415.9 657.5 L417.9 657.7 L420.0 657.9 L422.0 658.1 L424.0 658.2 L426.1 658.4 L428.1 658.5 L430.2 658.7 L432.2 658.8 L434.3 658.9 L436.3 659.1 L438.4 659.2 L440.4 659.3 L442.4 659.4 L444.5 659.5 L446.5 659.6 L448.6 659.7 L450.6 659.8 L452.7 659.9 L454.7 660.0 L456.8 660.1 L458.8 660.2 L460.9 660.2 L462.9 660.3 L464.9 660.4 L467.0 660.5 L469.0 660.5 L471.1 660.6 L473.1 660.6 L475.2 660.7 L477.2 660.8 L479.3 660.8 L481.3 660.9 L483.3 660.9 L485.4 661.0 L487.4 661.0 L489.5 661.1 L491.5 661.1 L493.6 661.1 L495.6 661.2 L497.7 661.2 L499.7 661.2 L501.8 661.3 L503.8 661.3 L505.8 661.3 L507.9 661.4 L509.9 661.4 L512.0 661.4 L514.0 661.4 L516.1 661.5 L518.1 661.5 L520.2 661.5 L522.2 661.5" fill="none" stroke="#ff4fd8" stroke-width="2.7" stroke-linejoin="round"/>
<path d="M113.2 654.9 L115.2 654.9 L117.3 654.9 L119.3 654.7 L121.4 654.5 L123.4 654.1 L125.5 653.7 L127.5 653.3 L129.6 652.7 L131.6 652.1 L133.7 651.4 L135.7 650.6 L137.7 649.8 L139.8 648.9 L141.8 648.0 L143.9 647.0 L145.9 645.9 L148.0 644.8 L150.0 643.6 L152.1 642.3 L154.1 641.0 L156.1 639.7 L158.2 638.3 L160.2 636.9 L162.3 635.4 L164.3 633.9 L166.4 632.4 L168.4 630.8 L170.5 629.2 L172.5 627.6 L174.6 626.0 L176.6 624.4 L178.6 622.8 L180.7 621.2 L182.7 619.7 L184.8 618.1 L186.8 616.6 L188.9 615.1 L190.9 613.7 L193.0 612.3 L195.0 610.9 L197.0 609.6 L199.1 608.4 L201.1 607.2 L203.2 606.0 L205.2 605.0 L207.3 604.0 L209.3 603.0 L211.4 602.1 L213.4 601.3 L215.5 600.5 L217.5 599.9 L219.5 599.2 L221.6 598.7 L223.6 598.2 L225.7 597.8 L227.7 597.4 L229.8 597.1 L231.8 596.9 L233.9 596.7 L235.9 596.6 L237.9 596.6 L240.0 596.6 L242.0 596.7 L244.1 596.8 L246.1 597.0 L248.2 597.2 L250.2 597.5 L252.3 597.9 L254.3 598.3 L256.4 598.7 L258.4 599.2 L260.4 599.8 L262.5 600.4 L264.5 601.0 L266.6 601.7 L268.6 602.4 L270.7 603.1 L272.7 603.9 L274.8 604.7 L276.8 605.5 L278.8 606.3 L280.9 607.2 L282.9 608.0 L285.0 608.9 L287.0 609.8 L289.1 610.7 L291.1 611.7 L293.2 612.6 L295.2 613.5 L297.3 614.4 L299.3 615.4 L301.3 616.3 L303.4 617.2 L305.4 618.2 L307.5 619.1 L309.5 620.0 L311.6 621.0 L313.6 621.9 L315.7 622.9 L317.7 623.8 L319.7 624.8 L321.8 625.7 L323.8 626.7 L325.9 627.6 L327.9 628.6 L330.0 629.5 L332.0 630.4 L334.1 631.4 L336.1 632.3 L338.2 633.2 L340.2 634.1 L342.2 635.0 L344.3 635.8 L346.3 636.7 L348.4 637.5 L350.4 638.4 L352.5 639.2 L354.5 639.9 L356.6 640.7 L358.6 641.5 L360.6 642.2 L362.7 642.9 L364.7 643.6 L366.8 644.3 L368.8 644.9 L370.9 645.6 L372.9 646.2 L375.0 646.8 L377.0 647.4 L379.1 647.9 L381.1 648.5 L383.1 649.0 L385.2 649.5 L387.2 650.0 L389.3 650.5 L391.3 651.0 L393.4 651.4 L395.4 651.9 L397.5 652.3 L399.5 652.7 L401.5 653.1 L403.6 653.5 L405.6 653.8 L407.7 654.2 L409.7 654.5 L411.8 654.8 L413.8 655.1 L415.9 655.4 L417.9 655.7 L420.0 656.0 L422.0 656.2 L424.0 656.5 L426.1 656.7 L428.1 657.0 L430.2 657.2 L432.2 657.4 L434.3 657.6 L436.3 657.8 L438.4 658.0 L440.4 658.2 L442.4 658.4 L444.5 658.5 L446.5 658.7 L448.6 658.9 L450.6 659.0 L452.7 659.2 L454.7 659.3 L456.8 659.4 L458.8 659.5 L460.9 659.7 L462.9 659.8 L464.9 659.9 L467.0 660.0 L469.0 660.1 L471.1 660.2 L473.1 660.3 L475.2 660.4 L477.2 660.4 L479.3 660.5 L481.3 660.6 L483.3 660.7 L485.4 660.7 L487.4 660.8 L489.5 660.9 L491.5 660.9 L493.6 661.0 L495.6 661.0 L497.7 661.1 L499.7 661.1 L501.8 661.2 L503.8 661.2 L505.8 661.3 L507.9 661.3 L509.9 661.3 L512.0 661.4 L514.0 661.4 L516.1 661.5 L518.1 661.5 L520.2 661.5 L522.2 661.5" fill="none" stroke="#007a00" stroke-width="2.7" stroke-linejoin="round"/>
<path d="M113.2 639.9 L115.2 640.1 L117.3 640.1 L119.3 639.8 L121.4 639.3 L123.4 638.6 L125.5 637.7 L127.5 636.7 L129.6 635.6 L131.6 634.3 L133.7 632.9 L135.7 631.3 L137.7 629.7 L139.8 628.0 L141.8 626.2 L143.9 624.3 L145.9 622.3 L148.0 620.3 L150.0 618.1 L152.1 616.0 L154.1 613.7 L156.1 611.4 L158.2 609.1 L160.2 606.8 L162.3 604.4 L164.3 602.0 L166.4 599.6 L168.4 597.2 L170.5 594.8 L172.5 592.3 L174.6 590.0 L176.6 587.6 L178.6 585.3 L180.7 582.9 L182.7 580.7 L184.8 578.5 L186.8 576.3 L188.9 574.2 L190.9 572.1 L193.0 570.1 L195.0 568.2 L197.0 566.3 L199.1 564.5 L201.1 562.8 L203.2 561.2 L205.2 559.7 L207.3 558.2 L209.3 556.8 L211.4 555.6 L213.4 554.4 L215.5 553.3 L217.5 552.3 L219.5 551.4 L221.6 550.6 L223.6 549.9 L225.7 549.3 L227.7 548.8 L229.8 548.4 L231.8 548.1 L233.9 547.9 L235.9 547.8 L237.9 547.7 L240.0 547.8 L242.0 548.0 L244.1 548.3 L246.1 548.6 L248.2 549.1 L250.2 549.7 L252.3 550.3 L254.3 551.0 L256.4 551.9 L258.4 552.8 L260.4 553.8 L262.5 554.8 L264.5 556.0 L266.6 557.2 L268.6 558.4 L270.7 559.8 L272.7 561.2 L274.8 562.6 L276.8 564.1 L278.8 565.6 L280.9 567.2 L282.9 568.8 L285.0 570.4 L287.0 572.0 L289.1 573.7 L291.1 575.4 L293.2 577.1 L295.2 578.7 L297.3 580.4 L299.3 582.1 L301.3 583.9 L303.4 585.6 L305.4 587.3 L307.5 589.0 L309.5 590.7 L311.6 592.4 L313.6 594.1 L315.7 595.8 L317.7 597.5 L319.7 599.2 L321.8 600.8 L323.8 602.5 L325.9 604.2 L327.9 605.8 L330.0 607.5 L332.0 609.1 L334.1 610.7 L336.1 612.3 L338.2 613.9 L340.2 615.4 L342.2 616.9 L344.3 618.4 L346.3 619.9 L348.4 621.3 L350.4 622.7 L352.5 624.1 L354.5 625.5 L356.6 626.8 L358.6 628.0 L360.6 629.3 L362.7 630.5 L364.7 631.7 L366.8 632.9 L368.8 634.0 L370.9 635.1 L372.9 636.1 L375.0 637.1 L377.0 638.1 L379.1 639.1 L381.1 640.0 L383.1 640.9 L385.2 641.8 L387.2 642.6 L389.3 643.4 L391.3 644.2 L393.4 644.9 L395.4 645.6 L397.5 646.3 L399.5 647.0 L401.5 647.6 L403.6 648.2 L405.6 648.8 L407.7 649.4 L409.7 649.9 L411.8 650.4 L413.8 651.0 L415.9 651.4 L417.9 651.9 L420.0 652.3 L422.0 652.8 L424.0 653.2 L426.1 653.6 L428.1 654.0 L430.2 654.3 L432.2 654.7 L434.3 655.0 L436.3 655.3 L438.4 655.6 L440.4 655.9 L442.4 656.2 L444.5 656.5 L446.5 656.8 L448.6 657.0 L450.6 657.2 L452.7 657.5 L454.7 657.7 L456.8 657.9 L458.8 658.1 L460.9 658.3 L462.9 658.5 L464.9 658.6 L467.0 658.8 L469.0 659.0 L471.1 659.1 L473.1 659.3 L475.2 659.4 L477.2 659.5 L479.3 659.7 L481.3 659.8 L483.3 659.9 L485.4 660.0 L487.4 660.1 L489.5 660.2 L491.5 660.3 L493.6 660.4 L495.6 660.5 L497.7 660.6 L499.7 660.6 L501.8 660.7 L503.8 660.8 L505.8 660.9 L507.9 660.9 L509.9 661.0 L512.0 661.0 L514.0 661.1 L516.1 661.2 L518.1 661.2 L520.2 661.2 L522.2 661.3" fill="none" stroke="#9900d6" stroke-width="2.7" stroke-linejoin="round"/>
<path d="M113.2 629.6 L115.2 629.6 L117.3 629.4 L119.3 629.1 L121.4 628.7 L123.4 628.2 L125.5 627.5 L127.5 626.7 L129.6 625.8 L131.6 624.7 L133.7 623.4 L135.7 622.0 L137.7 620.5 L139.8 618.8 L141.8 616.9 L143.9 614.9 L145.9 612.8 L148.0 610.5 L150.0 608.0 L152.1 605.4 L154.1 602.7 L156.1 599.9 L158.2 596.9 L160.2 593.8 L162.3 590.6 L164.3 587.3 L166.4 583.9 L168.4 580.4 L170.5 576.8 L172.5 573.2 L174.6 569.5 L176.6 565.7 L178.6 561.9 L180.7 558.1 L182.7 554.2 L184.8 550.3 L186.8 546.5 L188.9 542.7 L190.9 538.9 L193.0 535.1 L195.0 531.4 L197.0 527.8 L199.1 524.3 L201.1 520.9 L203.2 517.7 L205.2 514.5 L207.3 511.6 L209.3 508.7 L211.4 506.1 L213.4 503.6 L215.5 501.3 L217.5 499.2 L219.5 497.3 L221.6 495.6 L223.6 494.1 L225.7 492.7 L227.7 491.6 L229.8 490.6 L231.8 489.9 L233.9 489.3 L235.9 488.9 L237.9 488.6 L240.0 488.6 L242.0 488.7 L244.1 489.0 L246.1 489.4 L248.2 490.0 L250.2 490.8 L252.3 491.7 L254.3 492.7 L256.4 493.9 L258.4 495.2 L260.4 496.6 L262.5 498.2 L264.5 499.9 L266.6 501.7 L268.6 503.6 L270.7 505.5 L272.7 507.6 L274.8 509.7 L276.8 511.9 L278.8 514.2 L280.9 516.5 L282.9 518.9 L285.0 521.3 L287.0 523.7 L289.1 526.1 L291.1 528.6 L293.2 531.1 L295.2 533.6 L297.3 536.2 L299.3 538.7 L301.3 541.3 L303.4 543.8 L305.4 546.4 L307.5 549.0 L309.5 551.5 L311.6 554.1 L313.6 556.6 L315.7 559.2 L317.7 561.7 L319.7 564.2 L321.8 566.7 L323.8 569.2 L325.9 571.7 L327.9 574.1 L330.0 576.6 L332.0 578.9 L334.1 581.3 L336.1 583.6 L338.2 585.9 L340.2 588.2 L342.2 590.4 L344.3 592.6 L346.3 594.7 L348.4 596.8 L350.4 598.9 L352.5 600.9 L354.5 602.9 L356.6 604.8 L358.6 606.7 L360.6 608.5 L362.7 610.3 L364.7 612.1 L366.8 613.8 L368.8 615.4 L370.9 617.0 L372.9 618.6 L375.0 620.2 L377.0 621.7 L379.1 623.1 L381.1 624.5 L383.1 625.9 L385.2 627.3 L387.2 628.6 L389.3 629.8 L391.3 631.1 L393.4 632.3 L395.4 633.4 L397.5 634.5 L399.5 635.6 L401.5 636.7 L403.6 637.7 L405.6 638.6 L407.7 639.6 L409.7 640.5 L411.8 641.4 L413.8 642.2 L415.9 643.0 L417.9 643.8 L420.0 644.5 L422.0 645.3 L424.0 646.0 L426.1 646.6 L428.1 647.3 L430.2 647.9 L432.2 648.5 L434.3 649.1 L436.3 649.6 L438.4 650.2 L440.4 650.7 L442.4 651.2 L444.5 651.6 L446.5 652.1 L448.6 652.5 L450.6 653.0 L452.7 653.4 L454.7 653.7 L456.8 654.1 L458.8 654.5 L460.9 654.8 L462.9 655.1 L464.9 655.5 L467.0 655.8 L469.0 656.1 L471.1 656.3 L473.1 656.6 L475.2 656.9 L477.2 657.1 L479.3 657.4 L481.3 657.6 L483.3 657.8 L485.4 658.0 L487.4 658.2 L489.5 658.4 L491.5 658.6 L493.6 658.8 L495.6 658.9 L497.7 659.1 L499.7 659.3 L501.8 659.4 L503.8 659.5 L505.8 659.7 L507.9 659.8 L509.9 659.9 L512.0 660.0 L514.0 660.1 L516.1 660.2 L518.1 660.3 L520.2 660.4 L522.2 660.5" fill="none" stroke="#0000ff" stroke-width="2.7" stroke-linejoin="round"/>
<path d="M113.2 641.1 L115.2 642.1 L117.3 642.8 L119.3 643.2 L121.4 643.3 L123.4 643.1 L125.5 642.6 L127.5 641.9 L129.6 640.8 L131.6 639.5 L133.7 638.0 L135.7 636.1 L137.7 634.0 L139.8 631.7 L141.8 629.0 L143.9 626.2 L145.9 623.0 L148.0 619.6 L150.0 615.9 L152.1 612.1 L154.1 607.9 L156.1 603.6 L158.2 599.0 L160.2 594.3 L162.3 589.4 L164.3 584.3 L166.4 579.0 L168.4 573.6 L170.5 568.1 L172.5 562.4 L174.6 556.7 L176.6 550.9 L178.6 545.1 L180.7 539.2 L182.7 533.3 L184.8 527.3 L186.8 521.5 L188.9 515.6 L190.9 509.8 L193.0 504.1 L195.0 498.5 L197.0 493.0 L199.1 487.7 L201.1 482.5 L203.2 477.5 L205.2 472.6 L207.3 468.0 L209.3 463.6 L211.4 459.4 L213.4 455.5 L215.5 451.8 L217.5 448.4 L219.5 445.2 L221.6 442.3 L223.6 439.7 L225.7 437.3 L227.7 435.2 L229.8 433.4 L231.8 431.9 L233.9 430.6 L235.9 429.6 L237.9 428.8 L240.0 428.3 L242.0 428.1 L244.1 428.1 L246.1 428.4 L248.2 428.8 L250.2 429.5 L252.3 430.5 L254.3 431.6 L256.4 432.9 L258.4 434.4 L260.4 436.1 L262.5 438.0 L264.5 440.1 L266.6 442.3 L268.6 444.7 L270.7 447.2 L272.7 449.9 L274.8 452.6 L276.8 455.5 L278.8 458.6 L280.9 461.7 L282.9 464.9 L285.0 468.2 L287.0 471.6 L289.1 475.0 L291.1 478.6 L293.2 482.1 L295.2 485.8 L297.3 489.4 L299.3 493.1 L301.3 496.8 L303.4 500.6 L305.4 504.3 L307.5 508.1 L309.5 511.8 L311.6 515.6 L313.6 519.3 L315.7 523.0 L317.7 526.7 L319.7 530.3 L321.8 533.9 L323.8 537.5 L325.9 541.0 L327.9 544.5 L330.0 547.9 L332.0 551.3 L334.1 554.6 L336.1 557.9 L338.2 561.1 L340.2 564.2 L342.2 567.2 L344.3 570.2 L346.3 573.2 L348.4 576.0 L350.4 578.9 L352.5 581.6 L354.5 584.3 L356.6 586.9 L358.6 589.5 L360.6 592.0 L362.7 594.5 L364.7 596.8 L366.8 599.2 L368.8 601.4 L370.9 603.7 L372.9 605.8 L375.0 607.9 L377.0 609.9 L379.1 611.9 L381.1 613.8 L383.1 615.7 L385.2 617.5 L387.2 619.2 L389.3 620.9 L391.3 622.6 L393.4 624.2 L395.4 625.7 L397.5 627.2 L399.5 628.6 L401.5 630.0 L403.6 631.3 L405.6 632.6 L407.7 633.9 L409.7 635.1 L411.8 636.2 L413.8 637.3 L415.9 638.4 L417.9 639.4 L420.0 640.4 L422.0 641.4 L424.0 642.3 L426.1 643.2 L428.1 644.0 L430.2 644.8 L432.2 645.6 L434.3 646.3 L436.3 647.1 L438.4 647.7 L440.4 648.4 L442.4 649.0 L444.5 649.6 L446.5 650.2 L448.6 650.8 L450.6 651.3 L452.7 651.8 L454.7 652.3 L456.8 652.7 L458.8 653.2 L460.9 653.6 L462.9 654.0 L464.9 654.4 L467.0 654.8 L469.0 655.1 L471.1 655.5 L473.1 655.8 L475.2 656.1 L477.2 656.4 L479.3 656.7 L481.3 656.9 L483.3 657.2 L485.4 657.4 L487.4 657.7 L489.5 657.9 L491.5 658.1 L493.6 658.3 L495.6 658.5 L497.7 658.7 L499.7 658.9 L501.8 659.0 L503.8 659.2 L505.8 659.3 L507.9 659.5 L509.9 659.6 L512.0 659.7 L514.0 659.9 L516.1 660.0 L518.1 660.1 L520.2 660.2 L522.2 660.3" fill="none" stroke="#000000" stroke-width="2.7" stroke-linejoin="round"/>
<path d="M113.2 670.8 V390.2 H522.2 V663.7" fill="none" stroke="#000" stroke-width="2.6"/>
<path d="M105.2 662.4 H523.5" fill="none" stroke="#000" stroke-width="2.6"/>
<path d="M105.2 600.6 H113.2" stroke="#000" stroke-width="2.6"/>
<path d="M105.2 538.9 H113.2" stroke="#000" stroke-width="2.6"/>
<path d="M105.2 477.1 H113.2" stroke="#000" stroke-width="2.6"/>
<path d="M105.2 415.4 H113.2" stroke="#000" stroke-width="2.6"/>
<path d="M215.5 662.4 V670.8" stroke="#000" stroke-width="2.6"/>
<path d="M317.7 662.4 V670.8" stroke="#000" stroke-width="2.6"/>
<path d="M420.0 662.4 V670.8" stroke="#000" stroke-width="2.6"/>
<path d="M522.2 662.4 V670.8" stroke="#000" stroke-width="2.6"/>
<text x="102.3" y="669.8" font-size="21.2" text-anchor="end">0</text>
<text x="102.3" y="608.0" font-size="21.2" text-anchor="end">500</text>
<text x="102.3" y="546.3" font-size="21.2" text-anchor="end">1000</text>
<text x="102.3" y="484.5" font-size="21.2" text-anchor="end">1500</text>
<text x="102.3" y="422.8" font-size="21.2" text-anchor="end">2000</text>
<text x="112.9" y="692.8" font-size="21.2" text-anchor="middle">300</text>
<text x="215.2" y="692.8" font-size="21.2" text-anchor="middle">350</text>
<text x="317.4" y="692.8" font-size="21.2" text-anchor="middle">400</text>
<text x="419.7" y="692.8" font-size="21.2" text-anchor="middle">450</text>
<text x="521.9" y="692.8" font-size="21.2" text-anchor="middle">500</text>
<text x="317.4" y="723.7" font-size="22.8" font-weight="bold" text-anchor="middle">Wavelength (nm)</text>
<text transform="translate(47 526.2) rotate(-90)" font-size="22.2" font-weight="bold" text-anchor="middle" xml:space="preserve">Fluorescence  intensity</text>
<path d="M130.8 398 V452" stroke="#000" stroke-width="3"/>
<path d="M122.6 449.5 H139 L130.8 468.8 Z" fill="#000"/>
<text x="139.2" y="419.6" font-size="21.9">C6M1:C3G</text>
<path d="M412.3 410.2 H441.7" stroke="#000000" stroke-width="2.7"/>
<text x="457.5" y="417.5" font-size="21.2">C6M1</text>
<path d="M412.3 439.0 H441.7" stroke="#0000ff" stroke-width="2.7"/>
<text x="458.7" y="446.3" font-size="21.2">1:4</text>
<path d="M414.0 467.2 H443.4" stroke="#9900d6" stroke-width="2.7"/>
<text x="460.4" y="474.5" font-size="21.2">1:8</text>
<path d="M412.3 496.3 H441.7" stroke="#007a00" stroke-width="2.7"/>
<text x="458.7" y="503.6" font-size="21.2">1:16</text>
<path d="M414.0 522.4 H443.4" stroke="#ff4fd8" stroke-width="2.7"/>
<text x="460.4" y="529.7" font-size="21.2">1:24</text>
<path d="M413.9 551.8 H443.2" stroke="#ff8000" stroke-width="2.7"/>
<text x="460.8" y="559.1" font-size="21.2">1:32</text>
<path d="M415.2 581.7 H444.4" stroke="#ff0000" stroke-width="2.7"/>
<text x="461.8" y="589.0" font-size="21.2">1:64</text>
</g>
<defs><clipPath id="afmclip"><rect x="584.2" y="377.8" width="322.4" height="312.6"/></clipPath>
<filter id="b1" x="-20%" y="-20%" width="140%" height="140%"><feGaussianBlur stdDeviation="1.5"/></filter>
<filter id="b2" x="-20%" y="-20%" width="140%" height="140%"><feGaussianBlur stdDeviation="2.6"/></filter>
<filter id="bband" x="-5%" y="-30%" width="110%" height="160%"><feGaussianBlur stdDeviation="12 4.5"/></filter>
<filter id="afmtex" x="0" y="0" width="1" height="1" color-interpolation-filters="sRGB"><feTurbulence type="fractalNoise" baseFrequency="0.015 0.11" numOctaves="3" seed="5"/><feColorMatrix type="matrix" values="0 0 0 0 0.27  0 0 0 0 0.02  0 0 0 0 0  0.9 0 0 0 -0.36"/><feGaussianBlur stdDeviation="2.5 0.8"/></filter>
<filter id="afmtex2" x="0" y="0" width="1" height="1" color-interpolation-filters="sRGB"><feTurbulence type="fractalNoise" baseFrequency="0.09 0.13" numOctaves="2" seed="9"/><feColorMatrix type="matrix" values="0 0 0 0 0.62  0 0 0 0 0.32  0 0 0 0 0  0 0.8 0 0 -0.36"/><feGaussianBlur stdDeviation="1.5 1"/></filter>
</defs>
<g id="afm" clip-path="url(#afmclip)">
<rect x="584.2" y="377.8" width="322.4" height="312.6" fill="#7c3100"/>
<g filter="url(#bband)">
<rect x="564.2" y="377.8" width="362.4" height="3.2" fill="#4a0800" opacity="0.40"/>
<rect x="564.2" y="407.0" width="362.4" height="18.0" fill="#4a0800" opacity="0.42"/>
<rect x="564.2" y="432.0" width="362.4" height="34.0" fill="#a06000" opacity="0.20"/>
<rect x="564.2" y="470.0" width="362.4" height="13.0" fill="#4e0a00" opacity="0.40"/>
<rect x="564.2" y="537.0" width="362.4" height="11.0" fill="#560c00" opacity="0.25"/>
<rect x="564.2" y="584.0" width="362.4" height="13.0" fill="#4e0a00" opacity="0.45"/>
<rect x="564.2" y="602.0" width="362.4" height="12.0" fill="#460600" opacity="0.50"/>
<rect x="564.2" y="641.0" width="362.4" height="7.0" fill="#560c00" opacity="0.25"/>
<rect x="564.2" y="668.0" width="362.4" height="8.0" fill="#560c00" opacity="0.20"/>
<rect x="564.2" y="684.0" width="362.4" height="6.4" fill="#4e0a00" opacity="0.35"/>
</g>
<rect x="584.2" y="377.8" width="322.4" height="312.6" filter="url(#afmtex)"/>
<rect x="584.2" y="377.8" width="322.4" height="312.6" filter="url(#afmtex2)"/>
<g filter="url(#b2)">
<ellipse cx="610.2" cy="379.7" rx="12.5" ry="5.0" fill="#c08e12" opacity="0.85"/>
<ellipse cx="591.3" cy="379.0" rx="5.0" ry="3.8" fill="#a05e00" opacity="0.49"/>
<ellipse cx="680.3" cy="391.0" rx="11.2" ry="10.0" fill="#b57d0b" opacity="0.73"/>
<ellipse cx="625.9" cy="406.9" rx="7.5" ry="5.6" fill="#aa6c04" opacity="0.61"/>
<ellipse cx="592.4" cy="419.4" rx="10.0" ry="12.5" fill="#c08e12" opacity="0.85"/>
<ellipse cx="694.9" cy="420.9" rx="4.4" ry="4.4" fill="#a05e00" opacity="0.49"/>
<ellipse cx="711.7" cy="424.0" rx="6.9" ry="6.2" fill="#aa6c04" opacity="0.61"/>
<ellipse cx="731.6" cy="425.1" rx="7.5" ry="6.9" fill="#b27909" opacity="0.70"/>
<ellipse cx="694.9" cy="432.0" rx="5.6" ry="5.0" fill="#a86802" opacity="0.58"/>
<ellipse cx="613.3" cy="478.5" rx="11.2" ry="6.9" fill="#aa6c04" opacity="0.61" transform="rotate(15 613.3 478.5)"/>
<ellipse cx="623.8" cy="491.0" rx="5.6" ry="6.9" fill="#a56400" opacity="0.55"/>
<ellipse cx="648.5" cy="470.1" rx="5.0" ry="4.4" fill="#a26100" opacity="0.52"/>
<ellipse cx="662.5" cy="480.6" rx="10.6" ry="5.0" fill="#aa6c04" opacity="0.61" transform="rotate(20 662.5 480.6)"/>
<ellipse cx="679.2" cy="480.1" rx="3.8" ry="3.8" fill="#985500" opacity="0.40"/>
<ellipse cx="700.2" cy="491.0" rx="6.2" ry="5.6" fill="#ad7105" opacity="0.64"/>
<ellipse cx="742.0" cy="515.7" rx="5.0" ry="4.4" fill="#aa6c04" opacity="0.61"/>
<ellipse cx="745.0" cy="453.3" rx="5.0" ry="4.4" fill="#a05e00" opacity="0.49"/>
<ellipse cx="790.0" cy="405.2" rx="11.2" ry="6.9" fill="#c08e12" opacity="0.85"/>
<ellipse cx="812.0" cy="415.3" rx="17.5" ry="7.5" fill="#b57d0b" opacity="0.73" transform="rotate(-8 812.0 415.3)"/>
<ellipse cx="822.4" cy="384.9" rx="6.9" ry="5.0" fill="#a86802" opacity="0.58"/>
<ellipse cx="840.2" cy="380.5" rx="6.9" ry="4.4" fill="#a56400" opacity="0.55"/>
<ellipse cx="860.1" cy="394.3" rx="5.0" ry="3.8" fill="#a56400" opacity="0.55"/>
<ellipse cx="844.4" cy="398.9" rx="7.5" ry="3.8" fill="#9b5800" opacity="0.43"/>
<ellipse cx="762.8" cy="453.8" rx="4.4" ry="4.4" fill="#a26100" opacity="0.52"/>
<ellipse cx="840.9" cy="469.7" rx="5.0" ry="5.0" fill="#a86802" opacity="0.58"/>
<ellipse cx="885.6" cy="472.6" rx="7.5" ry="5.0" fill="#b07507" opacity="0.67" transform="rotate(10 885.6 472.6)"/>
<ellipse cx="763.8" cy="484.3" rx="5.6" ry="5.6" fill="#a56400" opacity="0.55"/>
<ellipse cx="799.8" cy="500.0" rx="3.8" ry="3.8" fill="#a05e00" opacity="0.49"/>
<ellipse cx="770.1" cy="513.0" rx="6.2" ry="5.6" fill="#aa6c04" opacity="0.61"/>
<ellipse cx="857.6" cy="507.8" rx="5.6" ry="4.4" fill="#a86802" opacity="0.58"/>
<ellipse cx="886.3" cy="501.5" rx="3.8" ry="3.8" fill="#985500" opacity="0.40"/>
<ellipse cx="831.9" cy="534.0" rx="5.0" ry="3.8" fill="#a05e00" opacity="0.49"/>
<ellipse cx="670.9" cy="543.4" rx="6.2" ry="5.0" fill="#ad7105" opacity="0.64"/>
<ellipse cx="702.3" cy="549.7" rx="8.1" ry="5.6" fill="#b27909" opacity="0.70"/>
<ellipse cx="602.4" cy="557.6" rx="8.8" ry="5.6" fill="#ad7105" opacity="0.64" transform="rotate(10 602.4 557.6)"/>
<ellipse cx="635.3" cy="563.9" rx="9.4" ry="6.2" fill="#b8810d" opacity="0.76"/>
<ellipse cx="652.0" cy="567.5" rx="4.4" ry="3.8" fill="#9b5800" opacity="0.43"/>
<ellipse cx="671.9" cy="573.8" rx="4.4" ry="3.1" fill="#a56400" opacity="0.55"/>
<ellipse cx="739.9" cy="578.6" rx="5.0" ry="4.4" fill="#a56400" opacity="0.55"/>
<ellipse cx="691.8" cy="591.6" rx="6.2" ry="8.8" fill="#a86802" opacity="0.58"/>
<ellipse cx="716.9" cy="591.6" rx="10.6" ry="8.1" fill="#c08e12" opacity="0.85"/>
<ellipse cx="726.3" cy="607.3" rx="9.4" ry="8.8" fill="#c08e12" opacity="0.85"/>
<ellipse cx="730.5" cy="597.8" rx="6.2" ry="6.2" fill="#b07507" opacity="0.67"/>
<ellipse cx="714.8" cy="602.0" rx="5.0" ry="5.0" fill="#a56400" opacity="0.55"/>
<ellipse cx="705.4" cy="604.1" rx="3.8" ry="3.8" fill="#9e5b00" opacity="0.46"/>
<ellipse cx="642.2" cy="612.5" rx="8.8" ry="7.5" fill="#b57d0b" opacity="0.73" transform="rotate(30 642.2 612.5)"/>
<ellipse cx="648.9" cy="616.7" rx="4.4" ry="4.4" fill="#a56400" opacity="0.55"/>
<ellipse cx="613.3" cy="650.8" rx="7.5" ry="5.6" fill="#bb860e" opacity="0.79"/>
<ellipse cx="647.8" cy="664.8" rx="8.8" ry="7.5" fill="#b57d0b" opacity="0.73" transform="rotate(35 647.8 664.8)"/>
<ellipse cx="674.0" cy="677.4" rx="8.8" ry="6.2" fill="#b57d0b" opacity="0.73"/>
<ellipse cx="674.0" cy="685.7" rx="7.5" ry="5.0" fill="#b07507" opacity="0.67"/>
<ellipse cx="615.4" cy="679.5" rx="6.2" ry="3.1" fill="#9b5800" opacity="0.43"/>
<ellipse cx="602.8" cy="683.6" rx="5.0" ry="3.8" fill="#9b5800" opacity="0.43"/>
<ellipse cx="691.8" cy="644.9" rx="3.1" ry="3.1" fill="#985500" opacity="0.40"/>
<ellipse cx="835.0" cy="551.2" rx="7.5" ry="5.6" fill="#c08e12" opacity="0.85"/>
<ellipse cx="832.9" cy="539.2" rx="6.2" ry="6.2" fill="#a26100" opacity="0.52"/>
<ellipse cx="902.0" cy="544.0" rx="6.2" ry="5.0" fill="#aa6c04" opacity="0.61"/>
<ellipse cx="865.3" cy="566.4" rx="5.0" ry="4.4" fill="#a56400" opacity="0.55"/>
<ellipse cx="823.5" cy="594.7" rx="6.2" ry="5.0" fill="#ad7105" opacity="0.64"/>
<ellipse cx="804.6" cy="601.0" rx="3.8" ry="5.6" fill="#9e5b00" opacity="0.46"/>
<ellipse cx="858.0" cy="598.5" rx="10.0" ry="5.0" fill="#a86802" opacity="0.58" transform="rotate(25 858.0 598.5)"/>
<ellipse cx="905.0" cy="601.0" rx="3.8" ry="3.8" fill="#a05e00" opacity="0.49"/>
<ellipse cx="817.8" cy="614.2" rx="5.6" ry="4.4" fill="#a86802" opacity="0.58"/>
<ellipse cx="777.4" cy="632.8" rx="5.0" ry="3.8" fill="#a05e00" opacity="0.49"/>
<ellipse cx="837.1" cy="636.1" rx="4.4" ry="3.1" fill="#9b5800" opacity="0.43"/>
<ellipse cx="793.6" cy="655.4" rx="6.9" ry="5.0" fill="#ad7105" opacity="0.64"/>
<ellipse cx="881.0" cy="659.6" rx="8.1" ry="5.6" fill="#aa6c04" opacity="0.61" transform="rotate(-25 881.0 659.6)"/>
<ellipse cx="807.4" cy="671.1" rx="6.9" ry="5.0" fill="#ad7105" opacity="0.64"/>
<ellipse cx="761.3" cy="675.9" rx="9.4" ry="5.6" fill="#a86802" opacity="0.58" transform="rotate(25 761.3 675.9)"/>
</g>
<g filter="url(#b1)">
<ellipse cx="610.2" cy="379.7" rx="7.8" ry="3.1" fill="#ffffff" opacity="1.00"/>
<ellipse cx="610.2" cy="379.7" rx="7.0" ry="2.8" fill="#ffffff"/>
<ellipse cx="591.3" cy="379.0" rx="3.1" ry="2.3" fill="#bb860e" opacity="0.60"/>
<ellipse cx="680.3" cy="391.0" rx="7.0" ry="6.2" fill="#f3e29b" opacity="0.90"/>
<ellipse cx="680.3" cy="391.0" rx="5.0" ry="4.4" fill="#faf3d3"/>
<ellipse cx="625.9" cy="406.9" rx="4.7" ry="3.5" fill="#dbba47" opacity="0.75"/>
<ellipse cx="592.4" cy="419.4" rx="6.2" ry="7.8" fill="#ffffff" opacity="1.00"/>
<ellipse cx="592.4" cy="419.4" rx="5.6" ry="7.0" fill="#ffffff"/>
<ellipse cx="694.9" cy="420.9" rx="2.7" ry="2.7" fill="#bb860e" opacity="0.60"/>
<ellipse cx="711.7" cy="424.0" rx="4.3" ry="3.9" fill="#dbba47" opacity="0.75"/>
<ellipse cx="731.6" cy="425.1" rx="4.7" ry="4.3" fill="#eed984" opacity="0.86"/>
<ellipse cx="694.9" cy="432.0" rx="3.5" ry="3.1" fill="#d5b039" opacity="0.71"/>
<ellipse cx="613.3" cy="478.5" rx="7.0" ry="4.3" fill="#dbba47" opacity="0.75" transform="rotate(15 613.3 478.5)"/>
<ellipse cx="623.8" cy="491.0" rx="3.5" ry="4.3" fill="#cea52c" opacity="0.68"/>
<ellipse cx="648.5" cy="470.1" rx="3.1" ry="2.7" fill="#c18f13" opacity="0.64"/>
<ellipse cx="662.5" cy="480.6" rx="6.6" ry="3.1" fill="#dbba47" opacity="0.75" transform="rotate(20 662.5 480.6)"/>
<ellipse cx="700.2" cy="491.0" rx="3.9" ry="3.5" fill="#e2c55b" opacity="0.79"/>
<ellipse cx="742.0" cy="515.7" rx="3.1" ry="2.7" fill="#dbba47" opacity="0.75"/>
<ellipse cx="745.0" cy="453.3" rx="3.1" ry="2.7" fill="#bb860e" opacity="0.60"/>
<ellipse cx="790.0" cy="405.2" rx="7.0" ry="4.3" fill="#ffffff" opacity="1.00"/>
<ellipse cx="790.0" cy="405.2" rx="6.3" ry="3.8" fill="#ffffff"/>
<ellipse cx="812.0" cy="415.3" rx="10.9" ry="4.7" fill="#f3e29b" opacity="0.90" transform="rotate(-8 812.0 415.3)"/>
<ellipse cx="812.0" cy="415.3" rx="7.7" ry="3.3" fill="#faf3d3" transform="rotate(-8 812.0 415.3)"/>
<ellipse cx="822.4" cy="384.9" rx="4.3" ry="3.1" fill="#d5b039" opacity="0.71"/>
<ellipse cx="840.2" cy="380.5" rx="4.3" ry="2.7" fill="#cea52c" opacity="0.68"/>
<ellipse cx="860.1" cy="394.3" rx="3.1" ry="2.3" fill="#cea52c" opacity="0.68"/>
<ellipse cx="762.8" cy="453.8" rx="2.7" ry="2.7" fill="#c18f13" opacity="0.64"/>
<ellipse cx="840.9" cy="469.7" rx="3.1" ry="3.1" fill="#d5b039" opacity="0.71"/>
<ellipse cx="885.6" cy="472.6" rx="4.7" ry="3.1" fill="#e8cf70" opacity="0.82" transform="rotate(10 885.6 472.6)"/>
<ellipse cx="763.8" cy="484.3" rx="3.5" ry="3.5" fill="#cea52c" opacity="0.68"/>
<ellipse cx="799.8" cy="500.0" rx="2.3" ry="2.3" fill="#bb860e" opacity="0.60"/>
<ellipse cx="770.1" cy="513.0" rx="3.9" ry="3.5" fill="#dbba47" opacity="0.75"/>
<ellipse cx="857.6" cy="507.8" rx="3.5" ry="2.7" fill="#d5b039" opacity="0.71"/>
<ellipse cx="831.9" cy="534.0" rx="3.1" ry="2.3" fill="#bb860e" opacity="0.60"/>
<ellipse cx="670.9" cy="543.4" rx="3.9" ry="3.1" fill="#e2c55b" opacity="0.79"/>
<ellipse cx="702.3" cy="549.7" rx="5.1" ry="3.5" fill="#eed984" opacity="0.86"/>
<ellipse cx="602.4" cy="557.6" rx="5.5" ry="3.5" fill="#e2c55b" opacity="0.79" transform="rotate(10 602.4 557.6)"/>
<ellipse cx="635.3" cy="563.9" rx="5.9" ry="3.9" fill="#f6eab7" opacity="0.94"/>
<ellipse cx="635.3" cy="563.9" rx="4.1" ry="2.8" fill="#fefcf3"/>
<ellipse cx="671.9" cy="573.8" rx="2.7" ry="2.0" fill="#cea52c" opacity="0.68"/>
<ellipse cx="739.9" cy="578.6" rx="3.1" ry="2.7" fill="#cea52c" opacity="0.68"/>
<ellipse cx="691.8" cy="591.6" rx="3.9" ry="5.5" fill="#d5b039" opacity="0.71"/>
<ellipse cx="716.9" cy="591.6" rx="6.6" ry="5.1" fill="#ffffff" opacity="1.00"/>
<ellipse cx="716.9" cy="591.6" rx="5.9" ry="4.5" fill="#ffffff"/>
<ellipse cx="726.3" cy="607.3" rx="5.9" ry="5.5" fill="#ffffff" opacity="1.00"/>
<ellipse cx="726.3" cy="607.3" rx="5.2" ry="4.9" fill="#ffffff"/>
<ellipse cx="730.5" cy="597.8" rx="3.9" ry="3.9" fill="#e8cf70" opacity="0.82"/>
<ellipse cx="714.8" cy="602.0" rx="3.1" ry="3.1" fill="#cea52c" opacity="0.68"/>
<ellipse cx="705.4" cy="604.1" rx="2.3" ry="2.3" fill="#b57c0a" opacity="0.56"/>
<ellipse cx="642.2" cy="612.5" rx="5.5" ry="4.7" fill="#f3e29b" opacity="0.90" transform="rotate(30 642.2 612.5)"/>
<ellipse cx="642.2" cy="612.5" rx="3.9" ry="3.3" fill="#faf3d3" transform="rotate(30 642.2 612.5)"/>
<ellipse cx="648.9" cy="616.7" rx="2.7" ry="2.7" fill="#cea52c" opacity="0.68"/>
<ellipse cx="613.3" cy="650.8" rx="4.7" ry="3.5" fill="#faf2d2" opacity="0.98"/>
<ellipse cx="613.3" cy="650.8" rx="3.3" ry="2.5" fill="#ffffff"/>
<ellipse cx="647.8" cy="664.8" rx="5.5" ry="4.7" fill="#f3e29b" opacity="0.90" transform="rotate(35 647.8 664.8)"/>
<ellipse cx="647.8" cy="664.8" rx="3.9" ry="3.3" fill="#faf3d3" transform="rotate(35 647.8 664.8)"/>
<ellipse cx="674.0" cy="677.4" rx="5.5" ry="3.9" fill="#f3e29b" opacity="0.90"/>
<ellipse cx="674.0" cy="677.4" rx="3.9" ry="2.8" fill="#faf3d3"/>
<ellipse cx="674.0" cy="685.7" rx="4.7" ry="3.1" fill="#e8cf70" opacity="0.82"/>
<ellipse cx="835.0" cy="551.2" rx="4.7" ry="3.5" fill="#ffffff" opacity="1.00"/>
<ellipse cx="835.0" cy="551.2" rx="4.2" ry="3.1" fill="#ffffff"/>
<ellipse cx="832.9" cy="539.2" rx="3.9" ry="3.9" fill="#c18f13" opacity="0.64"/>
<ellipse cx="902.0" cy="544.0" rx="3.9" ry="3.1" fill="#dbba47" opacity="0.75"/>
<ellipse cx="865.3" cy="566.4" rx="3.1" ry="2.7" fill="#cea52c" opacity="0.68"/>
<ellipse cx="823.5" cy="594.7" rx="3.9" ry="3.1" fill="#e2c55b" opacity="0.79"/>
<ellipse cx="804.6" cy="601.0" rx="2.3" ry="3.5" fill="#b57c0a" opacity="0.56"/>
<ellipse cx="858.0" cy="598.5" rx="6.2" ry="3.1" fill="#d5b039" opacity="0.71" transform="rotate(25 858.0 598.5)"/>
<ellipse cx="905.0" cy="601.0" rx="2.3" ry="2.3" fill="#bb860e" opacity="0.60"/>
<ellipse cx="817.8" cy="614.2" rx="3.5" ry="2.7" fill="#d5b039" opacity="0.71"/>
<ellipse cx="777.4" cy="632.8" rx="3.1" ry="2.3" fill="#bb860e" opacity="0.60"/>
<ellipse cx="793.6" cy="655.4" rx="4.3" ry="3.1" fill="#e2c55b" opacity="0.79"/>
<ellipse cx="881.0" cy="659.6" rx="5.1" ry="3.5" fill="#dbba47" opacity="0.75" transform="rotate(-25 881.0 659.6)"/>
<ellipse cx="807.4" cy="671.1" rx="4.3" ry="3.1" fill="#e2c55b" opacity="0.79"/>
<ellipse cx="761.3" cy="675.9" rx="5.9" ry="3.5" fill="#d5b039" opacity="0.71" transform="rotate(25 761.3 675.9)"/>
</g>
<rect x="584.2" y="377.8" width="1.2" height="312.6" fill="#a06a40" opacity="0.8"/>
<rect x="905.4" y="377.8" width="1.2" height="312.6" fill="#a06a40" opacity="0.6"/>
</g>
<defs><clipPath id="temclip"><rect x="925.0" y="377.8" width="324.0" height="312.6"/></clipPath>
<filter id="temW" x="0" y="0" width="1" height="1" color-interpolation-filters="sRGB"><feTurbulence type="fractalNoise" baseFrequency="0.41" numOctaves="2" seed="11"/><feGaussianBlur stdDeviation="0.45"/><feColorMatrix type="matrix" values="0 0 0 0 1  0 0 0 0 1  0 0 0 0 1  0.80 0 0 0 -0.400"/></filter>
<filter id="temB" x="0" y="0" width="1" height="1" color-interpolation-filters="sRGB"><feTurbulence type="fractalNoise" baseFrequency="0.41" numOctaves="2" seed="11"/><feGaussianBlur stdDeviation="0.45"/><feColorMatrix type="matrix" values="0 0 0 0 0  0 0 0 0 0  0 0 0 0 0  -0.80 0 0 0 0.400"/></filter>
<filter id="tb" x="-30%" y="-30%" width="160%" height="160%"><feGaussianBlur stdDeviation="1.1"/></filter>
<filter id="tbig" x="-50%" y="-50%" width="200%" height="200%"><feGaussianBlur stdDeviation="18"/></filter>
</defs>
<g id="tem" clip-path="url(#temclip)">
<rect x="925.0" y="377.8" width="324.0" height="312.6" fill="#7c7c7c"/>
<g filter="url(#tbig)">
<ellipse cx="940.0" cy="440.0" rx="40.0" ry="70.0" fill="#5a5a5a" opacity="0.35"/>
<ellipse cx="1060.0" cy="470.0" rx="70.0" ry="50.0" fill="#b4b4b4" opacity="0.25"/>
<ellipse cx="1160.0" cy="600.0" rx="60.0" ry="40.0" fill="#b8b8b8" opacity="0.22"/>
<ellipse cx="1100.0" cy="660.0" rx="50.0" ry="30.0" fill="#606060" opacity="0.20"/>
<ellipse cx="1230.0" cy="400.0" rx="40.0" ry="40.0" fill="#707070" opacity="0.15"/>
</g>
<g filter="url(#tb)">
<ellipse cx="930.2" cy="381.1" rx="3.8" ry="2.4" fill="#2e2e2e" opacity="0.68"/>
<ellipse cx="942.8" cy="386.8" rx="1.9" ry="1.9" fill="#373737" opacity="0.52"/>
<ellipse cx="953.9" cy="397.9" rx="2.4" ry="2.4" fill="#373737" opacity="0.52"/>
<ellipse cx="945.9" cy="414.0" rx="2.4" ry="2.4" fill="#373737" opacity="0.52"/>
<ellipse cx="950.1" cy="440.2" rx="3.8" ry="4.8" fill="#262626" opacity="0.84"/>
<ellipse cx="986.1" cy="420.9" rx="1.4" ry="2.8" fill="#373737" opacity="0.52"/>
<ellipse cx="1031.1" cy="409.0" rx="3.8" ry="7.1" fill="#2c2c2c" opacity="0.72" transform="rotate(25 1031.1 409.0)"/>
<ellipse cx="1063.5" cy="414.0" rx="3.8" ry="3.8" fill="#2a2a2a" opacity="0.76"/>
<ellipse cx="1080.9" cy="402.1" rx="4.8" ry="4.8" fill="#333333" opacity="0.60"/>
<ellipse cx="1075.3" cy="441.8" rx="3.3" ry="7.1" fill="#262626" opacity="0.84" transform="rotate(-15 1075.3 441.8)"/>
<ellipse cx="1054.3" cy="438.3" rx="2.8" ry="2.8" fill="#3b3b3b" opacity="0.44"/>
<ellipse cx="1011.9" cy="456.5" rx="3.8" ry="2.8" fill="#2c2c2c" opacity="0.72"/>
<ellipse cx="1032.8" cy="456.5" rx="2.4" ry="2.4" fill="#353535" opacity="0.56"/>
<ellipse cx="1026.1" cy="463.8" rx="2.4" ry="2.4" fill="#353535" opacity="0.56"/>
<ellipse cx="1025.5" cy="440.8" rx="1.9" ry="1.9" fill="#3b3b3b" opacity="0.44"/>
<ellipse cx="1008.3" cy="482.6" rx="4.8" ry="3.3" fill="#303030" opacity="0.64"/>
<ellipse cx="974.2" cy="504.6" rx="3.3" ry="3.3" fill="#2c2c2c" opacity="0.72"/>
<ellipse cx="1074.6" cy="507.3" rx="3.8" ry="4.8" fill="#2a2a2a" opacity="0.76" transform="rotate(20 1074.6 507.3)"/>
<ellipse cx="1063.1" cy="514.0" rx="2.8" ry="2.8" fill="#2e2e2e" opacity="0.68"/>
<ellipse cx="1032.8" cy="515.1" rx="2.8" ry="3.8" fill="#333333" opacity="0.60"/>
<ellipse cx="1044.3" cy="518.2" rx="3.3" ry="3.3" fill="#353535" opacity="0.56"/>
<ellipse cx="1085.1" cy="386.4" rx="2.4" ry="2.4" fill="#373737" opacity="0.52"/>
<ellipse cx="954.3" cy="505.7" rx="2.4" ry="2.4" fill="#3b3b3b" opacity="0.44"/>
<ellipse cx="1107.9" cy="423.0" rx="4.3" ry="4.3" fill="#242424" opacity="0.88"/>
<ellipse cx="1096.4" cy="408.3" rx="4.3" ry="4.3" fill="#333333" opacity="0.60"/>
<ellipse cx="1118.4" cy="410.4" rx="2.8" ry="2.8" fill="#3b3b3b" opacity="0.44"/>
<ellipse cx="1137.2" cy="417.8" rx="2.4" ry="2.4" fill="#373737" opacity="0.52"/>
<ellipse cx="1154.0" cy="436.2" rx="2.8" ry="2.8" fill="#303030" opacity="0.64"/>
<ellipse cx="1141.8" cy="445.0" rx="2.4" ry="2.4" fill="#353535" opacity="0.56"/>
<ellipse cx="1127.8" cy="452.3" rx="3.3" ry="3.3" fill="#2a2a2a" opacity="0.76"/>
<ellipse cx="1169.7" cy="440.8" rx="2.4" ry="2.4" fill="#373737" opacity="0.52"/>
<ellipse cx="1190.6" cy="445.0" rx="3.8" ry="2.8" fill="#3b3b3b" opacity="0.44"/>
<ellipse cx="1213.6" cy="434.1" rx="2.4" ry="2.4" fill="#353535" opacity="0.56"/>
<ellipse cx="1204.2" cy="386.4" rx="2.4" ry="2.4" fill="#353535" opacity="0.56"/>
<ellipse cx="1191.6" cy="456.5" rx="3.8" ry="3.8" fill="#3d3d3d" opacity="0.40"/>
<ellipse cx="1146.2" cy="484.7" rx="3.3" ry="3.3" fill="#282828" opacity="0.80"/>
<ellipse cx="1094.3" cy="487.3" rx="2.4" ry="2.4" fill="#2e2e2e" opacity="0.68"/>
<ellipse cx="1114.2" cy="480.6" rx="2.4" ry="2.4" fill="#373737" opacity="0.52"/>
<ellipse cx="1213.2" cy="484.7" rx="2.8" ry="3.8" fill="#2e2e2e" opacity="0.68"/>
<ellipse cx="1141.8" cy="503.2" rx="2.8" ry="2.8" fill="#333333" opacity="0.60"/>
<ellipse cx="1220.9" cy="508.8" rx="3.3" ry="3.3" fill="#2a2a2a" opacity="0.76"/>
<ellipse cx="1125.7" cy="528.7" rx="5.7" ry="4.8" fill="#222222" opacity="0.92"/>
<ellipse cx="1154.0" cy="536.5" rx="4.3" ry="6.6" fill="#222222" opacity="0.92"/>
<ellipse cx="1178.0" cy="487.9" rx="1.9" ry="1.9" fill="#373737" opacity="0.52"/>
<ellipse cx="1185.4" cy="497.3" rx="1.9" ry="1.9" fill="#393939" opacity="0.48"/>
<ellipse cx="1099.6" cy="521.4" rx="2.4" ry="2.4" fill="#393939" opacity="0.48"/>
<ellipse cx="1087.5" cy="386.4" rx="2.4" ry="2.4" fill="#353535" opacity="0.56"/>
<ellipse cx="1102.7" cy="455.4" rx="1.4" ry="1.4" fill="#373737" opacity="0.52"/>
<ellipse cx="1116.3" cy="458.6" rx="1.4" ry="1.4" fill="#373737" opacity="0.52"/>
<ellipse cx="1112.1" cy="442.9" rx="1.9" ry="1.9" fill="#393939" opacity="0.48"/>
<ellipse cx="1227.9" cy="485.8" rx="1.9" ry="1.9" fill="#393939" opacity="0.48"/>
<ellipse cx="979.8" cy="560.8" rx="5.2" ry="6.6" fill="#222222" opacity="0.92" transform="rotate(10 979.8 560.8)"/>
<ellipse cx="1028.6" cy="581.1" rx="5.7" ry="5.7" fill="#202020" opacity="0.92"/>
<ellipse cx="956.0" cy="566.4" rx="4.3" ry="3.8" fill="#2a2a2a" opacity="0.76"/>
<ellipse cx="938.0" cy="574.8" rx="4.8" ry="3.8" fill="#353535" opacity="0.56"/>
<ellipse cx="996.6" cy="561.2" rx="2.8" ry="2.8" fill="#303030" opacity="0.64"/>
<ellipse cx="990.9" cy="579.0" rx="2.4" ry="2.4" fill="#353535" opacity="0.56"/>
<ellipse cx="1040.1" cy="570.0" rx="3.3" ry="3.3" fill="#2e2e2e" opacity="0.68"/>
<ellipse cx="1055.8" cy="587.4" rx="2.8" ry="4.8" fill="#333333" opacity="0.60" transform="rotate(-30 1055.8 587.4)"/>
<ellipse cx="946.3" cy="610.4" rx="4.3" ry="4.3" fill="#2c2c2c" opacity="0.72"/>
<ellipse cx="986.3" cy="600.6" rx="3.3" ry="3.3" fill="#393939" opacity="0.48"/>
<ellipse cx="971.5" cy="597.8" rx="2.4" ry="2.4" fill="#3b3b3b" opacity="0.44"/>
<ellipse cx="1000.8" cy="613.5" rx="3.8" ry="3.8" fill="#282828" opacity="0.80"/>
<ellipse cx="958.5" cy="626.1" rx="2.4" ry="3.8" fill="#333333" opacity="0.60"/>
<ellipse cx="1010.8" cy="636.1" rx="4.3" ry="4.3" fill="#242424" opacity="0.88"/>
<ellipse cx="1053.7" cy="638.2" rx="2.8" ry="3.8" fill="#333333" opacity="0.60"/>
<ellipse cx="1028.6" cy="648.1" rx="2.8" ry="2.8" fill="#333333" opacity="0.60"/>
<ellipse cx="1022.3" cy="655.0" rx="4.3" ry="5.7" fill="#373737" opacity="0.52"/>
<ellipse cx="1055.8" cy="655.0" rx="2.8" ry="4.3" fill="#242424" opacity="0.88"/>
<ellipse cx="970.0" cy="655.4" rx="3.8" ry="2.8" fill="#333333" opacity="0.60"/>
<ellipse cx="958.5" cy="647.0" rx="2.4" ry="2.4" fill="#373737" opacity="0.52"/>
<ellipse cx="1037.0" cy="666.9" rx="2.4" ry="2.4" fill="#353535" opacity="0.56"/>
<ellipse cx="993.6" cy="678.4" rx="3.3" ry="4.3" fill="#333333" opacity="0.60"/>
<ellipse cx="1016.5" cy="686.4" rx="2.8" ry="2.8" fill="#333333" opacity="0.60"/>
<ellipse cx="1083.0" cy="559.1" rx="2.8" ry="2.8" fill="#3b3b3b" opacity="0.44"/>
<ellipse cx="930.2" cy="566.4" rx="1.9" ry="1.9" fill="#373737" opacity="0.52"/>
<ellipse cx="1104.8" cy="563.3" rx="3.3" ry="4.8" fill="#242424" opacity="0.88" transform="rotate(-15 1104.8 563.3)"/>
<ellipse cx="1136.2" cy="551.2" rx="3.3" ry="3.3" fill="#2e2e2e" opacity="0.68"/>
<ellipse cx="1089.5" cy="574.8" rx="2.8" ry="2.8" fill="#333333" opacity="0.60"/>
<ellipse cx="1120.5" cy="593.0" rx="5.2" ry="4.3" fill="#333333" opacity="0.60"/>
<ellipse cx="1142.5" cy="602.0" rx="4.8" ry="3.8" fill="#262626" opacity="0.84"/>
<ellipse cx="1172.8" cy="602.0" rx="3.8" ry="3.8" fill="#373737" opacity="0.52"/>
<ellipse cx="1193.7" cy="607.7" rx="3.3" ry="3.3" fill="#2c2c2c" opacity="0.72"/>
<ellipse cx="1175.3" cy="576.9" rx="2.8" ry="2.8" fill="#353535" opacity="0.56"/>
<ellipse cx="1209.9" cy="578.4" rx="3.3" ry="3.3" fill="#353535" opacity="0.56"/>
<ellipse cx="1185.8" cy="589.5" rx="2.4" ry="2.4" fill="#373737" opacity="0.52"/>
<ellipse cx="1193.7" cy="556.0" rx="2.4" ry="2.4" fill="#393939" opacity="0.48"/>
<ellipse cx="1097.5" cy="631.3" rx="4.8" ry="3.8" fill="#3b3b3b" opacity="0.44"/>
<ellipse cx="1114.2" cy="631.3" rx="3.3" ry="3.3" fill="#3b3b3b" opacity="0.44"/>
<ellipse cx="1162.8" cy="651.2" rx="2.8" ry="3.8" fill="#2e2e2e" opacity="0.68"/>
<ellipse cx="1142.5" cy="655.0" rx="2.4" ry="2.4" fill="#373737" opacity="0.52"/>
<ellipse cx="1131.0" cy="648.1" rx="2.8" ry="2.8" fill="#3b3b3b" opacity="0.44"/>
<ellipse cx="1126.1" cy="683.6" rx="4.8" ry="5.7" fill="#222222" opacity="0.92"/>
<ellipse cx="1105.8" cy="682.6" rx="3.3" ry="3.3" fill="#3b3b3b" opacity="0.44"/>
<ellipse cx="1197.9" cy="678.4" rx="4.3" ry="2.4" fill="#2a2a2a" opacity="0.76"/>
<ellipse cx="1087.0" cy="614.6" rx="2.4" ry="2.4" fill="#353535" opacity="0.56"/>
<ellipse cx="1248.0" cy="550.7" rx="2.8" ry="2.8" fill="#3b3b3b" opacity="0.44"/>
<ellipse cx="1236.6" cy="547.6" rx="2.4" ry="2.4" fill="#3b3b3b" opacity="0.44"/>
<ellipse cx="1231.4" cy="609.3" rx="2.8" ry="2.8" fill="#3d3d3d" opacity="0.40"/>
</g>
<rect x="925.0" y="377.8" width="324.0" height="312.6" filter="url(#temW)"/>
<rect x="925.0" y="377.8" width="324.0" height="312.6" filter="url(#temB)"/>
</g>
<g font-family="'Liberation Serif', 'Times New Roman', serif" fill="#fff">
<rect x="828" y="678.2" width="62.9" height="4.9"/>
<rect x="832.6" y="676.9" width="62.9" height="0.8"/>
<text transform="translate(832.6 676.2) scale(1 1.09)" font-size="16.6" textLength="62.6" lengthAdjust="spacingAndGlyphs">100.0 nm</text>
<rect x="1173" y="681.1" width="65" height="5.3"/>
<text x="1178.8" y="677.4" font-size="14.8">100.0 nm</text>
</g>
</svg></body></html>
